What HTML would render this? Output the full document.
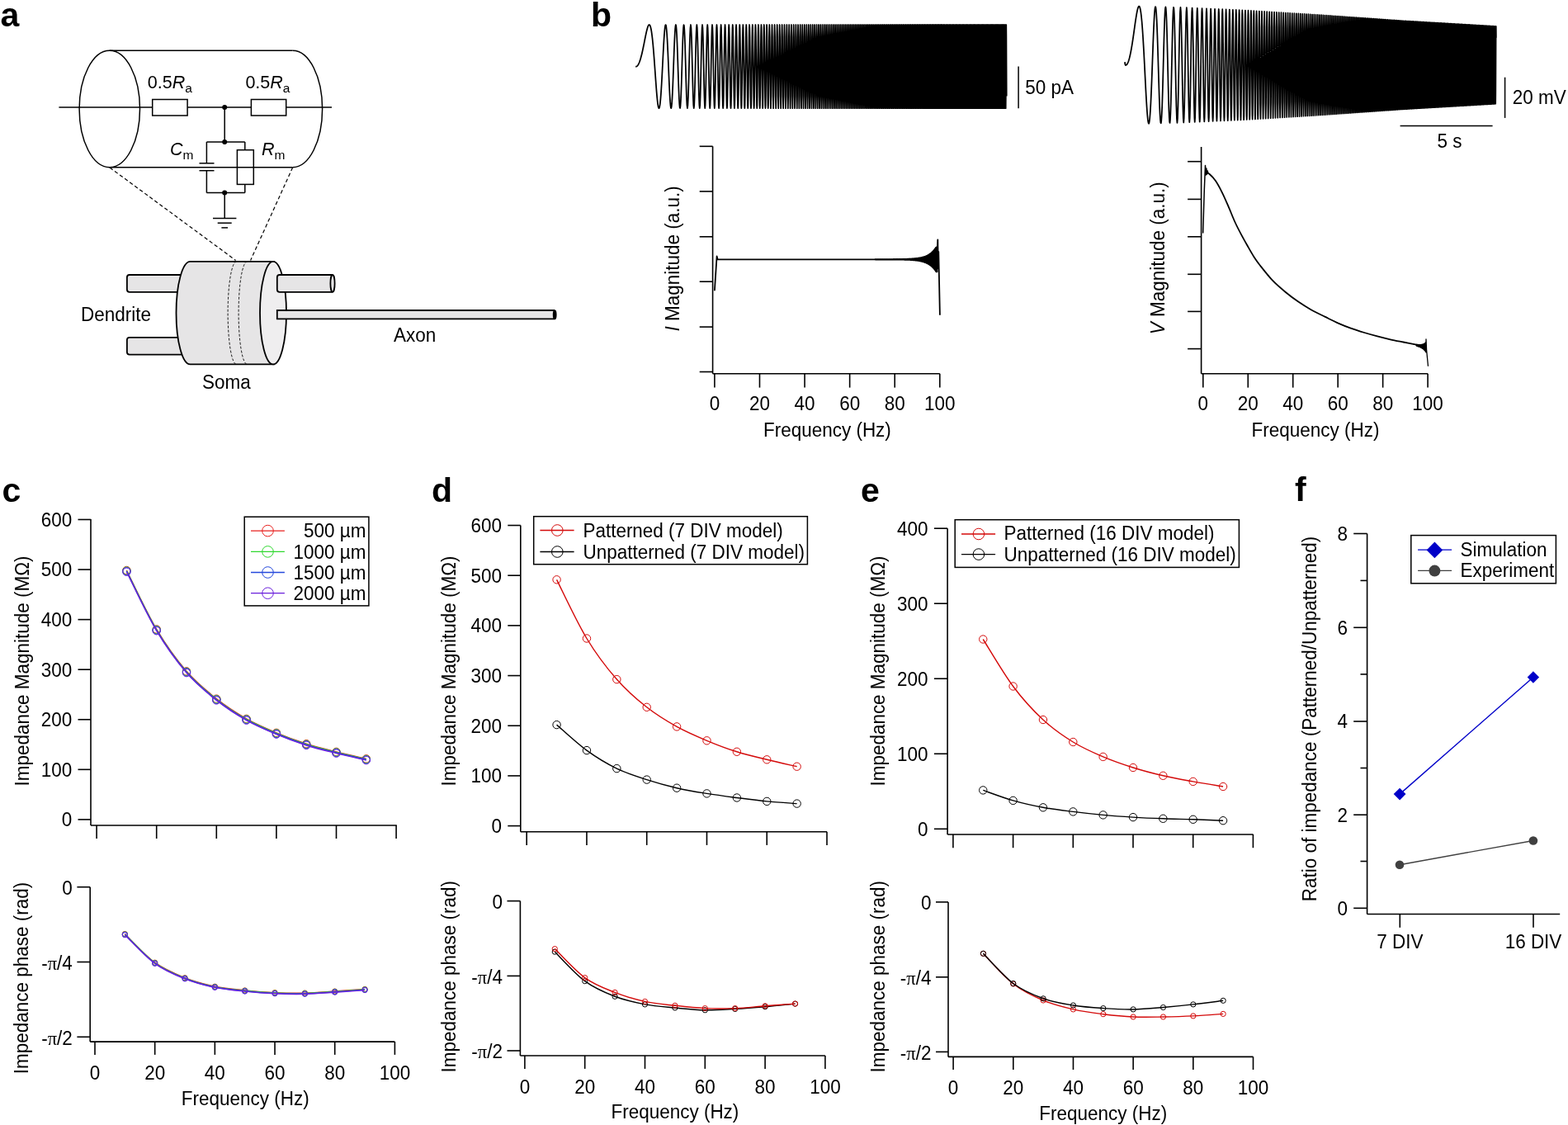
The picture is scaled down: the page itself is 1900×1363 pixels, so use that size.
<!DOCTYPE html>
<html><head><meta charset="utf-8"><title>Figure</title>
<style>html,body{margin:0;padding:0;background:#fff;overflow:hidden;} svg{display:block;} text{font-family:"Liberation Sans", Arial, sans-serif;fill:#000;}</style>
</head><body>
<svg width="1900" height="1363" viewBox="0 0 1900 1363">
<rect width="1900" height="1363" fill="#fff"/>
<text transform="translate(0.5,31.5) scale(1,1)" text-anchor="start" font-size="41" font-weight="bold">a</text>
<text transform="translate(716,31.8) scale(1,1)" text-anchor="start" font-size="41" font-weight="bold">b</text>
<text transform="translate(2.4,608.2) scale(1,1)" text-anchor="start" font-size="41" font-weight="bold">c</text>
<text transform="translate(523,608) scale(1,1)" text-anchor="start" font-size="41" font-weight="bold">d</text>
<text transform="translate(1043,608) scale(1,1)" text-anchor="start" font-size="41" font-weight="bold">e</text>
<text transform="translate(1569,607.3) scale(1,1)" text-anchor="start" font-size="41" font-weight="bold">f</text>
<ellipse cx="132.8" cy="132" rx="36.7" ry="70.7" fill="none" stroke="#000" stroke-width="1.5"/>
<line x1="132.8" y1="61.3" x2="354.6" y2="61.3" stroke="#000" stroke-width="1.5" />
<line x1="132.8" y1="202.7" x2="354.6" y2="202.7" stroke="#000" stroke-width="1.5" />
<path d="M354.6,61.3 A36,70.7 0 0 1 354.6,202.7" fill="none" stroke="#000" stroke-width="1.5"/>
<line x1="71.4" y1="130" x2="184.7" y2="130" stroke="#000" stroke-width="1.5" />
<line x1="227.1" y1="130" x2="304.4" y2="130" stroke="#000" stroke-width="1.5" />
<line x1="346.7" y1="130" x2="402" y2="130" stroke="#000" stroke-width="1.5" />
<rect x="184.7" y="120.5" width="42.4" height="19.5" fill="none" stroke="#000" stroke-width="1.5"/>
<rect x="304.4" y="120.5" width="42.3" height="19.5" fill="none" stroke="#000" stroke-width="1.5"/>
<circle cx="272.2" cy="130" r="3" fill="#000"/>
<line x1="272.2" y1="130" x2="272.2" y2="172" stroke="#000" stroke-width="1.5" />
<circle cx="272.2" cy="172" r="3" fill="#000"/>
<line x1="250.4" y1="172" x2="296.8" y2="172" stroke="#000" stroke-width="1.5" />
<line x1="250.4" y1="172" x2="250.4" y2="197.8" stroke="#000" stroke-width="1.5" />
<line x1="241.5" y1="197.8" x2="259.5" y2="197.8" stroke="#000" stroke-width="1.5" />
<line x1="241.5" y1="206.7" x2="259.5" y2="206.7" stroke="#000" stroke-width="1.5" />
<line x1="250.4" y1="206.7" x2="250.4" y2="233.6" stroke="#000" stroke-width="1.5" />
<line x1="296.8" y1="172" x2="296.8" y2="181.7" stroke="#000" stroke-width="1.5" />
<rect x="287.4" y="181.7" width="19.9" height="41.7" fill="none" stroke="#000" stroke-width="1.5"/>
<line x1="296.8" y1="223.4" x2="296.8" y2="233.6" stroke="#000" stroke-width="1.5" />
<line x1="250.4" y1="233.6" x2="296.8" y2="233.6" stroke="#000" stroke-width="1.5" />
<circle cx="272.2" cy="233.6" r="3" fill="#000"/>
<line x1="272.2" y1="233.6" x2="272.2" y2="264.5" stroke="#000" stroke-width="1.5" />
<line x1="258" y1="264.5" x2="286.4" y2="264.5" stroke="#000" stroke-width="1.5" />
<line x1="263.7" y1="270.2" x2="280.7" y2="270.2" stroke="#000" stroke-width="1.5" />
<line x1="268.4" y1="275.9" x2="276" y2="275.9" stroke="#000" stroke-width="1.5" />
<text x="178.8" y="106.8" font-size="21.5">0.5<tspan font-style="italic">R</tspan><tspan font-size="15.5" dy="5">a</tspan></text>
<text x="297.4" y="106.8" font-size="21.5">0.5<tspan font-style="italic">R</tspan><tspan font-size="15.5" dy="5">a</tspan></text>
<text x="206" y="187.8" font-size="21.5"><tspan font-style="italic">C</tspan><tspan font-size="15.5" dy="5">m</tspan></text>
<text x="317" y="187.8" font-size="21.5"><tspan font-style="italic">R</tspan><tspan font-size="15.5" dy="5">m</tspan></text>
<line x1="133" y1="203" x2="285.6" y2="315.4" stroke="#000" stroke-width="1.2" stroke-dasharray="4.5,3"/>
<line x1="354.6" y1="203" x2="303.6" y2="315.4" stroke="#000" stroke-width="1.2" stroke-dasharray="4.5,3"/>
<rect x="153.9" y="333" width="80" height="20.8" rx="3" fill="#e6e5e6" stroke="#000" stroke-width="1.8"/>
<rect x="153.9" y="408.8" width="80" height="20.8" rx="3" fill="#e6e5e6" stroke="#000" stroke-width="1.8"/>
<path d="M230.5,316.9 L332,316.9 L332,441.4 L230.5,441.4 A17,62.25 0 0 1 230.5,316.9 Z" fill="#e6e5e6" stroke="#000" stroke-width="1.8"/>
<path d="M286.5,316.9 A10.4,62.25 0 0 0 286.5,441.4" fill="none" stroke="#000" stroke-width="0.9" stroke-dasharray="3,2"/>
<path d="M299.5,316.9 A10.4,62.25 0 0 0 299.5,441.4" fill="none" stroke="#000" stroke-width="0.9" stroke-dasharray="3,2"/>
<ellipse cx="331" cy="379.15" rx="16" ry="62.25" fill="#efeeef" stroke="#000" stroke-width="1.8"/>
<path d="M403,333 L338.8,333 Q335.8,333 335.8,336 L335.8,350.8 Q335.8,353.8 338.8,353.8 L403,353.8" fill="#e6e5e6" stroke="#000" stroke-width="1.8"/>
<ellipse cx="403" cy="343.4" rx="2.6" ry="10.4" fill="#e6e5e6" stroke="#000" stroke-width="1.8"/>
<path d="M672,376 L335.8,376 L335.8,386.4 L672,386.4" fill="#e6e5e6" stroke="#000" stroke-width="1.8"/>
<ellipse cx="672.2" cy="381.2" rx="1.5" ry="5.1" fill="#000" stroke="#000" stroke-width="1.8"/>
<text transform="translate(98,388.7) scale(1,1.05)" text-anchor="start" font-size="22.5" >Dendrite</text>
<text transform="translate(245,471.3) scale(1,1.05)" text-anchor="start" font-size="22.5" >Soma</text>
<text transform="translate(477,414.2) scale(1,1.05)" text-anchor="start" font-size="22.5" >Axon</text>
<polyline points="770.1,80.6 770.5,80.67 770.9,80.65 771.3,80.52 771.7,80.3 772.1,79.98 772.5,79.57 772.9,79.05 773.3,78.44 773.7,77.72 774.1,76.92 774.5,76.01 774.9,75.01 775.3,73.91 775.7,72.72 776.1,71.44 776.5,70.06 776.9,68.6 777.3,67.06 777.7,65.44 778.1,63.74 778.5,61.97 778.9,60.13 779.3,58.24 779.7,56.3 780.1,54.32 780.5,52.32 780.9,50.3 781.3,48.27 781.7,46.26 782.1,44.28 782.5,42.34 782.9,40.46 783.3,38.67 783.7,36.98 784.1,35.41 784.5,34 784.9,32.76 785.3,31.72 785.7,30.9 786.1,30.33 786.5,30.04 786.9,30.04 787.3,30.36 787.7,31.02 788.1,32.04 788.5,33.44 788.9,35.23 789.3,37.42 789.7,40.02 790.1,43.03 790.5,46.43 790.9,50.23 791.3,54.39 791.7,58.91 792.1,63.74 792.5,68.85 792.9,74.18 793.3,79.69 793.7,85.3 794.1,90.95 794.5,96.57 794.9,102.06 795.3,107.34 795.7,112.32 796.1,116.91 796.5,121.01 796.9,124.53 797.3,127.39 797.7,129.5 798.1,130.79 798.5,131.2 798.9,130.68 799.3,129.21 799.7,126.77 800.1,123.37 800.5,119.05 800.9,113.85 801.3,107.87 801.7,101.2 802.1,93.97 802.5,86.34 802.9,78.47 803.3,70.56 803.7,62.81 804.1,55.42 804.5,48.61 804.9,42.59 805.3,37.56 805.7,33.69 806.1,31.14 806.5,30.04 806.9,30.46 807.3,32.45 807.7,35.98 808.1,41.01 808.5,47.4 808.9,54.98 809.3,63.53 809.7,72.77 810.1,82.38 810.5,92.03 810.9,101.34 811.3,109.95 811.7,117.5 812.1,123.65 812.5,128.11 812.9,130.66 813.3,131.11 813.7,129.4 814.1,125.54 814.5,119.64 814.9,111.92 815.3,102.68 815.7,92.32 816.1,81.31 816.5,70.16 816.9,59.44 817.3,49.7 817.7,41.46 818.1,35.19 818.5,31.28 818.9,30 819.3,31.49 819.7,35.72 820.1,42.54 820.5,51.6 820.9,62.43 821.3,74.43 821.7,86.89 822.1,99.06 822.5,110.18 822.9,119.5 823.3,126.4 823.7,130.36 824.1,131.05 824.5,128.36 824.9,122.39 825.3,113.49 825.7,102.21 826.1,89.31 826.5,75.69 826.9,62.33 827.3,50.24 827.7,40.36 828.1,33.49 828.5,30.22 828.9,30.9 829.3,35.54 829.7,43.85 830.1,55.23 830.82,80.6 831.36,99.96 831.89,116.38 832.42,127.35 832.94,131.2 833.45,127.35 833.97,116.38 834.48,99.96 834.98,80.6 835.48,61.24 835.98,44.82 836.47,33.85 836.96,30 837.45,33.85 837.93,44.82 838.41,61.24 838.89,80.6 839.36,99.96 839.83,116.38 840.3,127.35 840.76,131.2 841.22,127.35 841.68,116.38 842.13,99.96 842.58,80.6 843.03,61.24 843.47,44.82 843.92,33.85 844.36,30 844.8,33.85 845.23,44.82 845.66,61.24 846.09,80.6 846.52,99.96 846.95,116.38 847.37,127.35 847.79,131.2 848.21,127.35 848.63,116.38 849.04,99.96 849.45,80.6 849.86,61.24 850.27,44.82 850.67,33.85 851.08,30 851.48,33.85 851.88,44.82 852.28,61.24 852.67,80.6 853.06,99.96 853.46,116.38 853.85,127.35 854.23,131.2 854.62,127.35 855,116.38 855.39,99.96 855.77,80.6 856.15,61.24 856.53,44.82 856.9,33.85 857.28,30 857.65,33.85 858.02,44.82 858.39,61.24 858.76,80.6 859.12,99.96 859.49,116.38 859.85,127.35 860.22,131.2 860.58,127.35 860.93,116.38 861.29,99.96 861.65,80.6 862,61.24 862.36,44.82 862.71,33.85 863.06,30 863.41,33.85 863.76,44.82 864.11,61.24 864.45,80.6 864.8,99.96 865.14,116.38 865.48,127.35 865.82,131.2 866.16,127.35 866.5,116.38 866.84,99.96 867.17,80.6 867.51,61.24 867.84,44.82 868.17,33.85 868.5,30 868.83,33.85 869.16,44.82 869.49,61.24 869.82,80.6 870.14,99.96 870.47,116.38 870.79,127.35 871.12,131.2 871.44,127.35 871.76,116.38 872.08,99.96 872.4,80.6 872.71,61.24 873.03,44.82 873.35,33.85 873.66,30 873.97,33.85 874.29,44.82 874.6,61.24 874.91,80.6 875.22,99.96 875.53,116.38 875.84,127.35 876.14,131.2 876.45,127.35 876.76,116.38 877.06,99.96 877.36,80.6 877.67,61.24 877.97,44.82 878.27,33.85 878.57,30 878.87,33.85 879.17,44.82 879.47,61.24 879.76,80.6 880.06,99.96 880.36,116.38 880.65,127.35 880.94,131.2 881.24,127.35 881.53,116.38 881.82,99.96 882.11,80.6 882.4,61.24 882.69,44.82 882.98,33.85 883.27,30 883.55,33.85 883.84,44.82 884.13,61.24 884.41,80.6 884.7,99.96 884.98,116.38 885.26,127.35 885.54,131.2 885.83,127.35 886.11,116.38 886.39,99.96 886.67,80.6 886.94,61.24 887.22,44.82 887.5,33.85 887.78,30 888.05,33.85 888.33,44.82 888.6,61.24 888.88,80.6 889.15,99.96 889.42,116.38 889.69,127.35 889.97,131.2 890.24,127.35 890.51,116.38 890.78,99.96 891.05,80.6 891.32,61.24 891.58,44.82 891.85,33.85 892.12,30 892.38,33.85 892.65,44.82 892.91,61.24 893.18,80.6 893.44,99.96 893.71,116.38 893.97,127.35 894.23,131.2 894.49,127.35 894.75,116.38 895.01,99.96 895.27,80.6 895.53,61.24 895.79,44.82 896.05,33.85 896.31,30 896.57,33.85 896.82,44.82 897.08,61.24 897.34,80.6 897.59,99.96 897.85,116.38 898.1,127.35 898.35,131.2 898.61,127.35 898.86,116.38 899.11,99.96 899.36,80.6 899.61,61.24 899.86,44.82 900.12,33.85 900.36,30 900.61,33.85 900.86,44.82 901.11,61.24 901.36,80.6 901.61,99.96 901.85,116.38 902.1,127.35 902.35,131.2 902.59,127.35 902.84,116.38 903.08,99.96 903.33,80.6 903.57,61.24 903.81,44.82 904.06,33.85 904.3,30 904.54,33.85 904.78,44.82 905.02,61.24 905.26,80.6 905.5,99.96 905.74,116.38 905.98,127.35 906.22,131.2 906.46,127.35 906.7,116.38 906.94,99.96 907.17,80.6 907.41,61.24 907.65,44.82 907.88,33.85 908.12,30 908.35,33.85 908.59,44.82 908.82,61.24 909.06,80.6 909.29,99.96 909.52,116.38 909.76,127.35 909.99,131.2 910.22,127.35 910.45,116.38 910.69,99.96 910.92,80.6 911.15,61.24 911.38,44.82 911.61,33.85 911.84,30 912.07,33.85 912.29,44.82 912.52,61.24 912.75,80.6 912.98,99.96 913.21,116.38 913.43,127.35 913.66,131.2 913.89,127.35 914.11,116.38 914.34,99.96 914.56,80.6 914.79,61.24 915.01,44.82 915.23,33.85 915.46,30 915.68,33.85 915.9,44.82 916.13,61.24 916.35,80.6 916.57,99.96 916.79,116.38 917.01,127.35 917.24,131.2 917.46,127.35 917.68,116.38 917.9,99.96 918.12,80.6 918.34,61.24 918.55,44.82 918.77,33.85 918.99,30 919.21,33.85 919.43,44.82 919.65,61.24 919.86,80.6 920.08,99.96 920.3,116.38 920.51,127.35 920.73,131.2 920.94,127.35 921.16,116.38 921.37,99.96 921.59,80.6 921.8,61.24 922.02,44.82 922.23,33.85 922.44,30 922.66,33.85 922.87,44.82 923.08,61.24 923.29,80.6 923.51,99.96 923.72,116.38 923.93,127.35 924.14,131.2 924.35,127.35 924.56,116.38 924.77,99.96 924.98,80.6 925.19,61.24 925.4,44.82 925.61,33.85 925.82,30 926.03,33.85 926.23,44.82 926.44,61.24 926.65,80.6 926.86,99.96 927.07,116.38 927.27,127.35 927.48,131.2 927.68,127.35 927.89,116.38 928.1,99.96 928.3,80.6 928.51,61.24 928.71,44.82 928.92,33.85 929.12,30 929.33,33.85 929.53,44.82 929.73,61.24 929.94,80.6 930.14,99.96 930.34,116.38 930.54,127.35 930.75,131.2 930.95,127.35 931.15,116.38 931.35,99.96 931.55,80.6 931.96,44.82 932.36,30 932.76,44.82 933.16,80.6 933.55,116.38 933.95,131.2 934.35,116.38 934.74,80.6 935.14,44.82 935.53,30 935.92,44.82 936.31,80.6 936.7,116.38 937.09,131.2 937.48,116.38 937.87,80.6 938.25,44.82 938.64,30 939.03,44.82 939.41,80.6 939.79,116.38 940.18,131.2 940.56,116.38 940.94,80.6 941.32,44.82 941.7,30 942.07,44.82 942.45,80.6 942.83,116.38 943.2,131.2 943.58,116.38 943.95,80.6 944.33,44.82 944.7,30 945.07,44.82 945.44,80.6 945.81,116.38 946.18,131.2 946.55,116.38 946.92,80.6 947.28,44.82 947.65,30 948.01,44.82 948.38,80.6 948.74,116.38 949.11,131.2 949.47,116.38 949.83,80.6 950.19,44.82 950.55,30 950.91,44.82 951.27,80.6 951.63,116.38 951.99,131.2 952.34,116.38 952.7,80.6 953.05,44.82 953.41,30 953.76,44.82 954.12,80.6 954.47,116.38 954.82,131.2 955.17,116.38 955.52,80.6 955.87,44.82 956.22,30 956.57,44.82 956.92,80.6 957.27,116.38 957.61,131.2 957.96,116.38 958.3,80.6 958.65,44.82 958.99,30 959.34,44.82 959.68,80.6 960.02,116.38 960.36,131.2 960.7,116.38 961.04,80.6 961.38,44.82 961.72,30 962.06,44.82 962.4,80.6 962.74,116.38 963.07,131.2 963.41,116.38 963.74,80.6 964.08,44.82 964.41,30 964.75,44.82 965.08,80.6 965.41,116.38 965.75,131.2 966.08,116.38 966.41,80.6 966.74,44.82 967.07,30 967.4,44.82 967.73,80.6 968.06,116.38 968.38,131.2 968.71,116.38 969.04,80.6 969.36,44.82 969.69,30 970.01,44.82 970.34,80.6 970.66,116.38 970.99,131.2 971.31,116.38 971.63,80.6 971.95,44.82 972.27,30 972.6,44.82 972.92,80.6 973.24,116.38 973.56,131.2 973.87,116.38 974.19,80.6 974.51,44.82 974.83,30 975.14,44.82 975.46,80.6 975.78,116.38 976.09,131.2 976.41,116.38 976.72,80.6 977.04,44.82 977.35,30 977.66,44.82 977.97,80.6 978.29,116.38 978.6,131.2 978.91,116.38 979.22,80.6 979.53,44.82 979.84,30 980.15,44.82 980.46,80.6 980.77,116.38 981.07,131.2 981.38,116.38 981.69,80.6 982,44.82 982.3,30 982.61,44.82 982.91,80.6 983.22,116.38 983.52,131.2 983.83,116.38 984.13,80.6 984.43,44.82 984.74,30 985.04,44.82 985.34,80.6 985.64,116.38 985.94,131.2 986.24,116.38 986.54,80.6 986.84,44.82 987.14,30 987.44,44.82 987.74,80.6 988.04,116.38 988.33,131.2 988.63,116.38 988.93,80.6 989.23,44.82 989.52,30 989.82,44.82 990.11,80.6 990.41,116.38 990.7,131.2 991,116.38 991.29,80.6 991.58,44.82 991.88,30 992.17,44.82 992.46,80.6 992.75,116.38 993.04,131.2 993.33,116.38 993.62,80.6 993.91,44.82 994.2,30 994.49,44.82 994.78,80.6 995.07,116.38 995.36,131.2 995.65,116.38 995.94,80.6 996.22,44.82 996.51,30 996.8,44.82 997.08,80.6 997.37,116.38 997.65,131.2 997.94,116.38 998.22,80.6 998.51,44.82 998.79,30 999.08,44.82 999.36,80.6 999.64,116.38 999.92,131.2 1000.21,116.38 1000.49,80.6 1000.77,44.82 1001.05,30 1001.33,44.82 1001.61,80.6 1001.89,116.38 1002.17,131.2 1002.45,116.38 1002.73,80.6 1003.01,44.82 1003.29,30 1003.57,44.82 1003.84,80.6 1004.12,116.38 1004.4,131.2 1004.68,116.38 1004.95,80.6 1005.23,44.82 1005.51,30 1005.78,44.82 1006.06,80.6 1006.33,116.38 1006.61,131.2 1006.88,116.38 1007.15,80.6 1007.43,44.82 1007.7,30 1007.97,44.82 1008.25,80.6 1008.52,116.38 1008.79,131.2 1009.06,116.38 1009.33,80.6 1009.6,44.82 1009.88,30 1010.15,44.82 1010.42,80.6 1010.69,116.38 1010.96,131.2 1011.23,116.38 1011.49,80.6 1011.76,44.82 1012.03,30 1012.3,44.82 1012.57,80.6 1012.83,116.38 1013.1,131.2 1013.37,116.38 1013.64,80.6 1013.9,44.82 1014.17,30 1014.43,44.82 1014.7,80.6 1014.96,116.38 1015.23,131.2 1015.49,116.38 1015.76,80.6 1016.02,44.82 1016.29,30 1016.55,44.82 1016.81,80.6 1017.08,116.38 1017.34,131.2 1017.6,116.38 1017.86,80.6 1018.12,44.82 1018.39,30 1018.65,44.82 1018.91,80.6 1019.17,116.38 1019.43,131.2 1019.69,116.38 1019.95,80.6 1020.21,44.82 1020.47,30 1020.73,44.82 1020.99,80.6 1021.24,116.38 1021.5,131.2 1021.76,116.38 1022.02,80.6 1022.28,44.82 1022.53,30 1022.79,44.82 1023.05,80.6 1023.3,116.38 1023.56,131.2 1023.82,116.38 1024.07,80.6 1024.33,44.82 1024.58,30 1024.84,44.82 1025.09,80.6 1025.35,116.38 1025.6,131.2 1025.85,116.38 1026.11,80.6 1026.36,44.82 1026.61,30 1026.87,44.82 1027.12,80.6 1027.37,116.38 1027.62,131.2 1027.88,116.38 1028.13,80.6 1028.38,44.82 1028.63,30 1028.88,44.82 1029.13,80.6 1029.38,116.38 1029.63,131.2 1029.88,116.38 1030.13,80.6 1030.38,44.82 1030.63,30 1030.88,44.82 1031.13,80.6 1031.38,116.38 1031.62,131.2 1031.87,116.38 1032.12,80.6 1032.37,44.82 1032.61,30 1032.86,44.82 1033.11,80.6 1033.36,116.38 1033.6,131.2 1033.85,116.38 1034.09,80.6 1034.34,44.82 1034.58,30 1034.83,44.82 1035.08,80.6 1035.32,116.38 1035.56,131.2 1035.81,116.38 1036.05,80.6 1036.3,44.82 1036.54,30 1036.78,44.82 1037.03,80.6 1037.27,116.38 1037.51,131.2 1037.76,116.38 1038,80.6 1038.24,44.82 1038.48,30 1038.72,44.82 1038.96,80.6 1039.21,116.38 1039.45,131.2 1039.69,116.38 1039.93,80.6 1040.17,44.82 1040.41,30 1040.65,44.82 1040.89,80.6 1041.13,116.38 1041.37,131.2 1041.61,116.38 1041.85,80.6 1042.08,44.82 1042.32,30 1042.56,44.82 1042.8,80.6 1043.04,116.38 1043.27,131.2 1043.51,116.38 1043.75,80.6 1043.99,44.82 1044.22,30 1044.46,44.82 1044.7,80.6 1044.93,116.38 1045.17,131.2 1045.4,116.38 1045.64,80.6 1045.87,44.82 1046.11,30 1046.34,44.82 1046.58,80.6 1046.81,116.38 1047.05,131.2 1047.28,116.38 1047.52,80.6 1047.75,44.82 1047.98,30 1048.22,44.82 1048.45,80.6 1048.68,116.38 1048.92,131.2 1049.15,116.38 1049.38,80.6 1049.61,44.82 1049.85,30 1050.08,44.82 1050.31,80.6 1050.54,116.38 1050.77,131.2 1051,116.38 1051.23,80.6 1051.46,44.82 1051.69,30 1051.93,44.82 1052.16,80.6 1052.39,116.38 1052.62,131.2 1052.84,116.38 1053.07,80.6 1053.3,44.82 1053.53,30 1053.76,44.82 1053.99,80.6 1054.22,116.38 1054.45,131.2 1054.67,116.38 1054.9,80.6 1055.13,44.82 1055.36,30 1055.58,44.82 1055.81,80.6 1056.04,116.38 1056.27,131.2 1056.49,116.38 1056.72,80.6 1056.95,44.82 1057.17,30 1057.4,44.82 1057.62,80.6 1057.85,116.38 1058.07,131.2 1058.3,116.38 1058.52,80.6 1058.75,44.82 1058.97,30 1059.2,44.82 1059.42,80.6 1059.65,116.38 1059.87,131.2 1060.09,116.38 1060.32,80.6 1060.54,44.82 1060.76,30 1060.99,44.82 1061.21,80.6 1061.43,116.38 1061.66,131.2 1061.88,116.38 1062.1,80.6 1062.32,44.82 1062.55,30 1062.77,44.82 1062.99,80.6 1063.21,116.38 1063.43,131.2 1063.65,116.38 1063.87,80.6 1064.09,44.82 1064.31,30 1064.53,44.82 1064.76,80.6 1064.98,116.38 1065.2,131.2 1065.41,116.38 1065.63,80.6 1065.85,44.82 1066.07,30 1066.29,44.82 1066.51,80.6 1066.73,116.38 1066.95,131.2 1067.17,116.38 1067.39,80.6 1067.6,44.82 1067.82,30 1068.04,44.82 1068.26,80.6 1068.47,116.38 1068.69,131.2 1068.91,116.38 1069.13,80.6 1069.34,44.82 1069.56,30 1069.78,44.82 1069.99,80.6 1070.21,116.38 1070.43,131.2 1070.64,116.38 1070.86,80.6 1071.07,44.82 1071.29,30 1071.5,44.82 1071.72,80.6 1071.93,116.38 1072.15,131.2 1072.36,116.38 1072.58,80.6 1072.79,44.82 1073.01,30 1073.22,44.82 1073.43,80.6 1073.65,116.38 1073.86,131.2 1074.08,116.38 1074.29,80.6 1074.5,44.82 1074.71,30 1074.93,44.82 1075.14,80.6 1075.35,116.38 1075.57,131.2 1075.78,116.38 1075.99,80.6 1076.2,44.82 1076.41,30 1076.63,44.82 1076.84,80.6 1077.05,116.38 1077.26,131.2 1077.47,116.38 1077.68,80.6 1077.89,44.82 1078.1,30 1078.31,44.82 1078.52,80.6 1078.73,116.38 1078.94,131.2 1079.15,116.38 1079.36,80.6 1079.57,44.82 1079.78,30 1079.99,44.82 1080.2,80.6 1080.41,116.38 1080.62,131.2 1080.83,116.38 1081.04,80.6 1081.25,44.82 1081.45,30 1081.66,44.82 1081.87,80.6 1082.08,116.38 1082.29,131.2 1082.49,116.38 1082.7,80.6 1082.91,44.82 1083.12,30 1083.32,44.82 1083.53,80.6 1083.74,116.38 1083.95,131.2 1084.15,116.38 1084.36,80.6 1084.56,44.82 1084.77,30 1084.98,44.82 1085.18,80.6 1085.39,116.38 1085.59,131.2 1085.8,116.38 1086.01,80.6 1086.21,44.82 1086.42,30 1086.62,44.82 1086.83,80.6 1087.03,116.38 1087.23,131.2 1087.44,116.38 1087.64,80.6 1087.85,44.82 1088.05,30 1088.26,44.82 1088.46,80.6 1088.66,116.38 1088.87,131.2 1089.07,116.38 1089.27,80.6 1089.48,44.82 1089.68,30 1089.88,44.82 1090.09,80.6 1090.29,116.38 1090.49,131.2 1090.69,116.38 1090.9,80.6 1091.1,44.82 1091.3,30 1091.5,44.82 1091.7,80.6 1091.91,116.38 1092.11,131.2 1092.31,116.38 1092.51,80.6 1092.71,44.82 1092.91,30 1093.11,44.82 1093.31,80.6 1093.51,116.38 1093.71,131.2 1093.91,116.38 1094.11,80.6 1094.31,44.82 1094.51,30 1094.71,44.82 1094.91,80.6 1095.11,116.38 1095.31,131.2 1095.51,116.38 1095.71,80.6 1095.91,44.82 1096.11,30 1096.31,44.82 1096.51,80.6 1096.71,116.38 1096.91,131.2 1097.1,116.38 1097.3,80.6 1097.5,44.82 1097.7,30 1097.9,44.82 1098.09,80.6 1098.29,116.38 1098.49,131.2 1098.69,116.38 1098.88,80.6 1099.08,44.82 1099.28,30 1099.48,44.82 1099.67,80.6 1099.87,116.38 1100.07,131.2 1100.26,116.38 1100.46,80.6 1100.66,44.82 1100.85,30 1101.05,44.82 1101.24,80.6 1101.44,116.38 1101.63,131.2 1101.83,116.38 1102.03,80.6 1102.22,44.82 1102.42,30 1102.61,44.82 1102.81,80.6 1103,116.38 1103.2,131.2 1103.39,116.38 1103.59,80.6 1103.78,44.82 1103.97,30 1104.17,44.82 1104.36,80.6 1104.56,116.38 1104.75,131.2 1104.94,116.38 1105.14,80.6 1105.33,44.82 1105.52,30 1105.72,44.82 1105.91,80.6 1106.1,116.38 1106.3,131.2 1106.49,116.38 1106.68,80.6 1106.88,44.82 1107.07,30 1107.26,44.82 1107.45,80.6 1107.65,116.38 1107.84,131.2 1108.03,116.38 1108.22,80.6 1108.41,44.82 1108.6,30 1108.8,44.82 1108.99,80.6 1109.18,116.38 1109.37,131.2 1109.56,116.38 1109.75,80.6 1109.94,44.82 1110.13,30 1110.32,44.82 1110.52,80.6 1110.71,116.38 1110.9,131.2 1111.09,116.38 1111.28,80.6 1111.47,44.82 1111.66,30 1111.85,44.82 1112.04,80.6 1112.23,116.38 1112.42,131.2 1112.6,116.38 1112.79,80.6 1112.98,44.82 1113.17,30 1113.36,44.82 1113.55,80.6 1113.74,116.38 1113.93,131.2 1114.12,116.38 1114.31,80.6 1114.49,44.82 1114.68,30 1114.87,44.82 1115.06,80.6 1115.25,116.38 1115.43,131.2 1115.62,116.38 1115.81,80.6 1116,44.82 1116.18,30 1116.37,44.82 1116.56,80.6 1116.75,116.38 1116.93,131.2 1117.12,116.38 1117.31,80.6 1117.49,44.82 1117.68,30 1117.87,44.82 1118.05,80.6 1118.24,116.38 1118.43,131.2 1118.61,116.38 1118.8,80.6 1118.98,44.82 1119.17,30 1119.36,44.82 1119.54,80.6 1119.73,116.38 1119.91,131.2 1120.1,116.38 1120.28,80.6 1120.47,44.82 1120.65,30 1120.84,44.82 1121.02,80.6 1121.21,116.38 1121.39,131.2 1121.58,116.38 1121.76,80.6 1121.95,44.82 1122.13,30 1122.31,44.82 1122.5,80.6 1122.68,116.38 1122.87,131.2 1123.05,116.38 1123.23,80.6 1123.42,44.82 1123.6,30 1123.78,44.82 1123.97,80.6 1124.15,116.38 1124.33,131.2 1124.52,116.38 1124.7,80.6 1124.88,44.82 1125.07,30 1125.25,44.82 1125.43,80.6 1125.61,116.38 1125.8,131.2 1125.98,116.38 1126.16,80.6 1126.34,44.82 1126.52,30 1126.71,44.82 1126.89,80.6 1127.07,116.38 1127.25,131.2 1127.43,116.38 1127.61,80.6 1127.8,44.82 1127.98,30 1128.16,44.82 1128.34,80.6 1128.52,116.38 1128.7,131.2 1128.88,116.38 1129.06,80.6 1129.24,44.82 1129.42,30 1129.6,44.82 1129.79,80.6 1129.97,116.38 1130.15,131.2 1130.33,116.38 1130.51,80.6 1130.69,44.82 1130.87,30 1131.05,44.82 1131.22,80.6 1131.4,116.38 1131.58,131.2 1131.76,116.38 1131.94,80.6 1132.12,44.82 1132.3,30 1132.48,44.82 1132.66,80.6 1132.84,116.38 1133.02,131.2 1133.19,116.38 1133.37,80.6 1133.55,44.82 1133.73,30 1133.91,44.82 1134.09,80.6 1134.27,116.38 1134.44,131.2 1134.62,116.38 1134.8,80.6 1134.98,44.82 1135.15,30 1135.33,44.82 1135.51,80.6 1135.69,116.38 1135.86,131.2 1136.04,116.38 1136.22,80.6 1136.4,44.82 1136.57,30 1136.75,44.82 1136.93,80.6 1137.1,116.38 1137.28,131.2 1137.46,116.38 1137.63,80.6 1137.81,44.82 1137.99,30 1138.16,44.82 1138.34,80.6 1138.51,116.38 1138.69,131.2 1138.87,116.38 1139.04,80.6 1139.22,44.82 1139.39,30 1139.57,44.82 1139.74,80.6 1139.92,116.38 1140.1,131.2 1140.27,116.38 1140.45,80.6 1140.62,44.82 1140.8,30 1140.97,44.82 1141.15,80.6 1141.32,116.38 1141.49,131.2 1141.67,116.38 1141.84,80.6 1142.02,44.82 1142.19,30 1142.37,44.82 1142.54,80.6 1142.72,116.38 1142.89,131.2 1143.06,116.38 1143.24,80.6 1143.41,44.82 1143.58,30 1143.76,44.82 1143.93,80.6 1144.11,116.38 1144.28,131.2 1144.45,116.38 1144.62,80.6 1144.8,44.82 1144.97,30 1145.14,44.82 1145.32,80.6 1145.49,116.38 1145.66,131.2 1145.84,116.38 1146.01,80.6 1146.18,44.82 1146.35,30 1146.52,44.82 1146.7,80.6 1146.87,116.38 1147.04,131.2 1147.21,116.38 1147.39,80.6 1147.56,44.82 1147.73,30 1147.9,44.82 1148.07,80.6 1148.24,116.38 1148.42,131.2 1148.59,116.38 1148.76,80.6 1148.93,44.82 1149.1,30 1149.27,44.82 1149.44,80.6 1149.61,116.38 1149.78,131.2 1149.95,116.38 1150.13,80.6 1150.3,44.82 1150.47,30 1150.64,44.82 1150.81,80.6 1150.98,116.38 1151.15,131.2 1151.32,116.38 1151.49,80.6 1151.66,44.82 1151.83,30 1152,44.82 1152.17,80.6 1152.34,116.38 1152.51,131.2 1152.68,116.38 1152.85,80.6 1153.02,44.82 1153.19,30 1153.35,44.82 1153.52,80.6 1153.69,116.38 1153.86,131.2 1154.03,116.38 1154.2,80.6 1154.37,44.82 1154.54,30 1154.71,44.82 1154.87,80.6 1155.04,116.38 1155.21,131.2 1155.38,116.38 1155.55,80.6 1155.72,44.82 1155.88,30 1156.05,44.82 1156.22,80.6 1156.39,116.38 1156.56,131.2 1156.72,116.38 1156.89,80.6 1157.06,44.82 1157.23,30 1157.39,44.82 1157.56,80.6 1157.73,116.38 1157.9,131.2 1158.06,116.38 1158.23,80.6 1158.4,44.82 1158.56,30 1158.73,44.82 1158.9,80.6 1159.06,116.38 1159.23,131.2 1159.4,116.38 1159.56,80.6 1159.73,44.82 1159.9,30 1160.06,44.82 1160.23,80.6 1160.4,116.38 1160.56,131.2 1160.73,116.38 1160.89,80.6 1161.06,44.82 1161.23,30 1161.39,44.82 1161.56,80.6 1161.72,116.38 1161.89,131.2 1162.05,116.38 1162.22,80.6 1162.39,44.82 1162.55,30 1162.72,44.82 1162.88,80.6 1163.05,116.38 1163.21,131.2 1163.38,116.38 1163.54,80.6 1163.71,44.82 1163.87,30 1164.03,44.82 1164.2,80.6 1164.36,116.38 1164.53,131.2 1164.69,116.38 1164.86,80.6 1165.02,44.82 1165.19,30 1165.35,44.82 1165.51,80.6 1165.68,116.38 1165.84,131.2 1166.01,116.38 1166.17,80.6 1166.33,44.82 1166.5,30 1166.66,44.82 1166.82,80.6 1166.99,116.38 1167.15,131.2 1167.31,116.38 1167.48,80.6 1167.64,44.82 1167.8,30 1167.97,44.82 1168.13,80.6 1168.29,116.38 1168.45,131.2 1168.62,116.38 1168.78,80.6 1168.94,44.82 1169.11,30 1169.27,44.82 1169.43,80.6 1169.59,116.38 1169.75,131.2 1169.92,116.38 1170.08,80.6 1170.24,44.82 1170.4,30 1170.57,44.82 1170.73,80.6 1170.89,116.38 1171.05,131.2 1171.21,116.38 1171.37,80.6 1171.54,44.82 1171.7,30 1171.86,44.82 1172.02,80.6 1172.18,116.38 1172.34,131.2 1172.5,116.38 1172.66,80.6 1172.83,44.82 1172.99,30 1173.15,44.82 1173.31,80.6 1173.47,116.38 1173.63,131.2 1173.79,116.38 1173.95,80.6 1174.11,44.82 1174.27,30 1174.43,44.82 1174.59,80.6 1174.75,116.38 1174.91,131.2 1175.07,116.38 1175.23,80.6 1175.39,44.82 1175.55,30 1175.71,44.82 1175.87,80.6 1176.03,116.38 1176.19,131.2 1176.35,116.38 1176.51,80.6 1176.67,44.82 1176.83,30 1176.99,44.82 1177.15,80.6 1177.31,116.38 1177.47,131.2 1177.63,116.38 1177.79,80.6 1177.95,44.82 1178.1,30 1178.26,44.82 1178.42,80.6 1178.58,116.38 1178.74,131.2 1178.9,116.38 1179.06,80.6 1179.22,44.82 1179.37,30 1179.53,44.82 1179.69,80.6 1179.85,116.38 1180.01,131.2 1180.17,116.38 1180.32,80.6 1180.48,44.82 1180.64,30 1180.8,44.82 1180.96,80.6 1181.11,116.38 1181.27,131.2 1181.43,116.38 1181.59,80.6 1181.74,44.82 1181.9,30 1182.06,44.82 1182.22,80.6 1182.37,116.38 1182.53,131.2 1182.69,116.38 1182.85,80.6 1183,44.82 1183.16,30 1183.32,44.82 1183.47,80.6 1183.63,116.38 1183.79,131.2 1183.94,116.38 1184.1,80.6 1184.26,44.82 1184.41,30 1184.57,44.82 1184.73,80.6 1184.88,116.38 1185.04,131.2 1185.2,116.38 1185.35,80.6 1185.51,44.82 1185.66,30 1185.82,44.82 1185.98,80.6 1186.13,116.38 1186.29,131.2 1186.44,116.38 1186.6,80.6 1186.75,44.82 1186.91,30 1187.07,44.82 1187.22,80.6 1187.38,116.38 1187.53,131.2 1187.69,116.38 1187.84,80.6 1188,44.82 1188.15,30 1188.31,44.82 1188.46,80.6 1188.62,116.38 1188.77,131.2 1188.93,116.38 1189.08,80.6 1189.24,44.82 1189.39,30 1189.55,44.82 1189.7,80.6 1189.86,116.38 1190.01,131.2 1190.16,116.38 1190.32,80.6 1190.47,44.82 1190.63,30 1190.78,44.82 1190.94,80.6 1191.09,116.38 1191.24,131.2 1191.4,116.38 1191.55,80.6 1191.71,44.82 1191.86,30 1192.01,44.82 1192.17,80.6 1192.32,116.38 1192.47,131.2 1192.63,116.38 1192.78,80.6 1192.93,44.82 1193.09,30 1193.24,44.82 1193.39,80.6 1193.55,116.38 1193.7,131.2 1193.85,116.38 1194.01,80.6 1194.16,44.82 1194.31,30 1194.46,44.82 1194.62,80.6 1194.77,116.38 1194.92,131.2 1195.08,116.38 1195.23,80.6 1195.38,44.82 1195.53,30 1195.69,44.82 1195.84,80.6 1195.99,116.38 1196.14,131.2 1196.29,116.38 1196.45,80.6 1196.6,44.82 1196.75,30 1196.9,44.82 1197.05,80.6 1197.21,116.38 1197.36,131.2 1197.51,116.38 1197.66,80.6 1197.81,44.82 1197.96,30 1198.12,44.82 1198.27,80.6 1198.42,116.38 1198.57,131.2 1198.72,116.38 1198.87,80.6 1199.02,44.82 1199.18,30 1199.33,44.82 1199.48,80.6 1199.63,116.38 1199.78,131.2 1199.93,116.38 1200.08,80.6 1200.23,44.82 1200.38,30 1200.53,44.82 1200.68,80.6 1200.83,116.38 1200.98,131.2 1201.14,116.38 1201.29,80.6 1201.44,44.82 1201.59,30 1201.74,44.82 1201.89,80.6 1202.04,116.38 1202.19,131.2 1202.34,116.38 1202.49,80.6 1202.64,44.82 1202.79,30 1202.94,44.82 1203.09,80.6 1203.24,116.38 1203.39,131.2 1203.54,116.38 1203.69,80.6 1203.83,44.82 1203.98,30 1204.13,44.82 1204.28,80.6 1204.43,116.38 1204.58,131.2 1204.73,116.38 1204.88,80.6 1205.03,44.82 1205.18,30 1205.33,44.82 1205.48,80.6 1205.62,116.38 1205.77,131.2 1205.92,116.38 1206.07,80.6 1206.22,44.82 1206.37,30 1206.52,44.82 1206.67,80.6 1206.81,116.38 1206.96,131.2 1207.11,116.38 1207.26,80.6 1207.41,44.82 1207.56,30 1207.7,44.82 1207.85,80.6 1208,116.38 1208.15,131.2 1208.3,116.38 1208.44,80.6 1208.59,44.82 1208.74,30 1208.89,44.82 1209.04,80.6 1209.18,116.38 1209.33,131.2 1209.48,116.38 1209.63,80.6 1209.77,44.82 1209.92,30 1210.07,44.82 1210.22,80.6 1210.36,116.38 1210.51,131.2 1210.66,116.38 1210.8,80.6 1210.95,44.82 1211.1,30 1211.25,44.82 1211.39,80.6 1211.54,116.38 1211.69,131.2 1211.83,116.38 1211.98,80.6 1212.13,44.82 1212.27,30 1212.42,44.82 1212.57,80.6 1212.71,116.38 1212.86,131.2 1213.01,116.38 1213.15,80.6 1213.3,44.82 1213.45,30 1213.59,44.82 1213.74,80.6 1213.88,116.38 1214.03,131.2 1214.18,116.38 1214.32,80.6 1214.47,44.82 1214.61,30 1214.76,44.82 1214.91,80.6 1215.05,116.38 1215.2,131.2 1215.34,116.38 1215.49,80.6 1215.63,44.82 1215.78,30 1215.92,44.82 1216.07,80.6 1216.22,116.38 1216.36,131.2 1216.51,116.38 1216.65,80.6 1216.8,44.82 1216.94,30 1217.09,44.82 1217.23,80.6 1217.38,116.38 1217.52,131.2 1217.67,116.38 1217.81,80.6 1217.96,44.82 1218.1,30 1218.25,44.82 1218.39,80.6 1218.53,116.38 1218.68,131.2 1218.82,116.38 1218.97,80.6 1219.11,44.82 1219.26,30 1219.4,44.82 1219.55,80.6 1219.69,116.38" fill="none" stroke="#000" stroke-width="1.75" stroke-linejoin="round" />
<line x1="1234.1" y1="80.6" x2="1234.1" y2="131.2" stroke="#000" stroke-width="1.5" />
<text transform="translate(1242.3,113.5) scale(1,1.05)" text-anchor="start" font-size="22.5" >50 pA</text>
<polyline points="1363,75.2 1363.3,77.6 1363.8,79 1364.4,78.87 1364.8,78.69 1365.2,78.38 1365.6,77.93 1366,77.34 1366.4,76.62 1366.8,75.75 1367.2,74.75 1367.6,73.62 1368,72.34 1368.4,70.93 1368.8,69.39 1369.2,67.71 1369.6,65.91 1370,63.98 1370.4,61.92 1370.8,59.75 1371.2,57.46 1371.6,55.07 1372,52.58 1372.4,50 1372.8,47.34 1373.2,44.61 1373.6,41.83 1374,39.01 1374.4,36.16 1374.8,33.31 1375.2,30.48 1375.6,27.69 1376,24.96 1376.4,22.32 1376.8,19.79 1377.2,17.42 1377.6,15.22 1378,13.23 1378.4,11.49 1378.8,10.02 1379.2,8.87 1379.6,8.07 1380,7.65 1380.4,7.65 1380.8,8.11 1381.2,9.05 1381.6,10.5 1382,12.47 1382.4,15 1382.8,18.09 1383.2,21.75 1383.6,25.98 1384,30.77 1384.4,36.11 1384.8,41.98 1385.2,48.33 1385.6,55.12 1386,62.29 1386.4,69.79 1386.8,77.52 1387.2,85.4 1387.6,93.34 1388,101.21 1388.4,108.92 1388.8,116.33 1389.2,123.31 1389.6,129.74 1390,135.49 1390.4,140.42 1390.8,144.42 1391.2,147.37 1391.6,149.17 1392,149.73 1392.4,149 1392.8,146.93 1393.2,143.5 1393.6,138.73 1394,132.67 1394.4,125.38 1394.8,116.99 1395.2,107.65 1395.6,97.52 1396,86.83 1396.4,75.82 1396.8,64.75 1397.2,53.9 1397.6,43.56 1398,34.05 1398.4,25.63 1398.8,18.6 1399.2,13.2 1399.6,9.64 1400,8.11 1400.4,8.71 1400.8,11.49 1401.2,16.44 1401.6,23.47 1402,32.41 1402.4,43.01 1402.8,54.95 1403.2,67.86 1403.6,81.29 1404,94.75 1404.4,107.75 1404.8,119.77 1405.2,130.3 1405.6,138.88 1406,145.1 1406.4,148.64 1406.8,149.27 1407.2,146.87 1407.6,141.48 1408,133.24 1408.4,122.47 1408.8,109.58 1409.2,95.13 1409.6,79.78 1410,64.26 1410.4,49.32 1410.8,35.75 1411.2,24.27 1411.6,15.55 1412,10.11 1412.4,8.34 1412.8,10.42 1413.2,16.33 1413.6,25.82 1414,38.44 1414.4,53.52 1414.8,70.21 1415.2,87.55 1415.6,104.48 1416,119.94 1416.4,132.9 1416.8,142.48 1417.2,147.98 1417.6,148.94 1418,145.19 1418.4,136.88 1418.8,124.5 1419.2,108.82 1419.6,90.89 1420,71.97 1420.4,53.43 1420.8,36.64 1421.2,22.93 1421.6,13.39 1422,8.87 1422.4,9.81 1422.8,16.26 1423.2,27.81 1423.6,43.6 1424.32,78.8 1424.86,105.64 1425.39,128.38 1425.92,143.56 1426.44,148.87 1426.95,143.52 1427.47,128.32 1427.98,105.59 1428.48,78.8 1428.98,52.03 1429.48,29.35 1429.97,14.21 1430.46,8.91 1430.95,14.25 1431.43,29.41 1431.91,52.08 1432.39,78.8 1432.86,105.5 1433.33,128.13 1433.8,143.23 1434.26,148.52 1434.72,143.19 1435.18,128.07 1435.63,105.46 1436.08,78.8 1436.53,52.16 1436.97,29.59 1437.42,14.52 1437.86,9.24 1438.3,14.56 1438.73,29.64 1439.16,52.2 1439.59,78.8 1440.02,105.38 1440.45,127.9 1440.87,142.94 1441.29,148.2 1441.71,142.9 1442.13,127.85 1442.54,105.34 1442.95,78.8 1443.36,52.28 1443.77,29.8 1444.17,14.8 1444.58,9.55 1444.98,14.83 1445.38,29.86 1445.78,52.32 1446.17,78.8 1446.56,105.27 1446.96,127.69 1447.35,142.67 1447.73,147.91 1448.12,142.63 1448.5,127.64 1448.89,105.23 1449.27,78.8 1449.65,52.39 1450.03,30 1450.4,15.06 1450.78,9.83 1451.15,15.09 1451.52,30.05 1451.89,52.42 1452.26,78.8 1452.62,105.16 1452.99,127.5 1453.35,142.42 1453.72,147.64 1454.08,142.39 1454.43,127.46 1454.79,105.13 1455.15,78.8 1455.5,52.49 1455.86,30.19 1456.21,15.3 1456.56,10.09 1456.91,15.33 1457.26,30.24 1457.61,52.52 1457.95,78.8 1458.3,105.07 1458.64,127.32 1458.98,142.18 1459.32,147.39 1459.66,142.15 1460,127.28 1460.34,105.03 1460.67,78.8 1461.01,52.58 1461.34,30.37 1461.67,15.53 1462,10.33 1462.33,15.56 1462.66,30.41 1462.99,52.62 1463.32,78.8 1463.64,104.97 1463.97,127.15 1464.29,141.96 1464.62,147.15 1464.94,141.93 1465.26,127.11 1465.58,104.94 1465.9,78.8 1466.21,52.67 1466.53,30.53 1466.85,15.75 1467.16,10.57 1467.47,15.77 1467.79,30.57 1468.1,52.7 1468.41,78.8 1468.72,104.89 1469.03,126.99 1469.34,141.75 1469.64,146.92 1469.95,141.72 1470.26,126.95 1470.56,104.85 1470.86,78.8 1471.17,52.76 1471.47,30.69 1471.77,15.95 1472.07,10.79 1472.37,15.98 1472.67,30.73 1472.97,52.79 1473.26,78.8 1473.56,104.8 1473.86,126.84 1474.15,141.55 1474.44,146.71 1474.74,141.52 1475.03,126.8 1475.32,104.77 1475.61,78.8 1475.9,52.84 1476.19,30.84 1476.48,16.15 1476.77,11 1477.05,16.17 1477.34,30.88 1477.63,52.87 1477.91,78.8 1478.2,104.72 1478.48,126.69 1478.76,141.36 1479.04,146.5 1479.33,141.33 1479.61,126.65 1479.89,104.69 1480.17,78.8 1480.44,52.92 1480.72,30.98 1481,16.34 1481.28,11.2 1481.55,16.36 1481.83,31.02 1482.1,52.95 1482.38,78.8 1482.65,104.64 1482.92,126.55 1483.19,141.17 1483.47,146.3 1483.74,141.15 1484.01,126.51 1484.28,104.62 1484.55,78.8 1484.82,52.99 1485.08,31.12 1485.35,16.52 1485.62,11.4 1485.88,16.54 1486.15,31.16 1486.41,53.02 1486.68,78.8 1486.94,104.57 1487.21,126.41 1487.47,140.99 1487.73,146.11 1487.99,140.97 1488.25,126.38 1488.51,104.54 1488.77,78.8 1489.03,53.07 1489.29,31.26 1489.55,16.69 1489.81,11.59 1490.07,16.71 1490.32,31.29 1490.58,53.09 1490.84,78.8 1491.09,104.5 1491.35,126.28 1491.6,140.82 1491.85,145.92 1492.11,140.8 1492.36,126.25 1492.61,104.47 1492.86,78.8 1493.11,53.14 1493.36,31.39 1493.62,16.86 1493.86,11.77 1494.11,16.88 1494.36,31.42 1494.61,53.16 1494.86,78.8 1495.11,104.43 1495.35,126.15 1495.6,140.65 1495.85,145.74 1496.09,140.63 1496.34,126.12 1496.58,104.4 1496.83,78.8 1497.07,53.2 1497.31,31.51 1497.56,17.03 1497.8,11.95 1498.04,17.05 1498.28,31.54 1498.52,53.23 1498.76,78.8 1499,104.36 1499.24,126.03 1499.48,140.49 1499.72,145.57 1499.96,140.47 1500.2,125.99 1500.44,104.34 1500.67,78.8 1500.91,53.27 1501.15,31.64 1501.38,17.19 1501.62,12.12 1501.85,17.21 1502.09,31.67 1502.32,53.29 1502.56,78.8 1502.79,104.3 1503.02,125.9 1503.26,140.34 1503.49,145.4 1503.72,140.32 1503.95,125.88 1504.19,104.27 1504.42,78.8 1504.65,53.34 1504.88,31.75 1505.11,17.34 1505.34,12.29 1505.57,17.36 1505.79,31.79 1506.02,53.36 1506.25,78.8 1506.48,104.23 1506.71,125.77 1506.93,140.16 1507.16,145.2 1507.39,140.14 1507.61,125.73 1507.84,104.2 1508.06,78.8 1508.29,53.42 1508.51,31.9 1508.73,17.54 1508.96,12.51 1509.18,17.57 1509.4,31.94 1509.63,53.45 1509.85,78.8 1510.07,104.14 1510.29,125.62 1510.51,139.96 1510.74,144.98 1510.96,139.93 1511.18,125.58 1511.4,104.11 1511.62,78.8 1511.84,53.5 1512.05,32.06 1512.27,17.74 1512.49,12.73 1512.71,17.77 1512.93,32.1 1513.15,53.53 1513.36,78.8 1513.58,104.06 1513.8,125.46 1514.01,139.76 1514.23,144.77 1514.44,139.73 1514.66,125.43 1514.87,104.03 1515.09,78.8 1515.3,53.58 1515.52,32.21 1515.73,17.94 1515.94,12.94 1516.16,17.97 1516.37,32.25 1516.58,53.61 1516.79,78.8 1517.01,103.98 1517.22,125.31 1517.43,139.56 1517.64,144.56 1517.85,139.54 1518.06,125.28 1518.27,103.95 1518.48,78.8 1518.69,53.66 1518.9,32.36 1519.11,18.13 1519.32,13.15 1519.53,18.16 1519.73,32.4 1519.94,53.69 1520.15,78.8 1520.36,103.9 1520.57,125.17 1520.77,139.37 1520.98,144.35 1521.18,139.35 1521.39,125.13 1521.6,103.87 1521.8,78.8 1522.01,53.74 1522.21,32.5 1522.42,18.32 1522.62,13.35 1522.83,18.35 1523.03,32.54 1523.23,53.77 1523.44,78.8 1523.64,103.82 1523.84,125.02 1524.04,139.18 1524.25,144.15 1524.45,139.16 1524.65,124.99 1524.85,103.79 1525.05,78.8 1525.46,32.65 1525.86,13.55 1526.26,32.68 1526.66,78.8 1527.05,124.88 1527.45,143.95 1527.85,124.85 1528.24,78.8 1528.64,32.78 1529.03,13.75 1529.42,32.82 1529.81,78.8 1530.2,124.75 1530.59,143.75 1530.98,124.71 1531.37,78.8 1531.75,32.92 1532.14,13.94 1532.53,32.96 1532.91,78.8 1533.29,124.61 1533.68,143.56 1534.06,124.58 1534.44,78.8 1534.82,33.06 1535.2,14.13 1535.57,33.09 1535.95,78.8 1536.33,124.48 1536.7,143.38 1537.08,124.45 1537.45,78.8 1537.83,33.19 1538.2,14.32 1538.57,33.22 1538.94,78.8 1539.31,124.35 1539.68,143.19 1540.05,124.32 1540.42,78.8 1540.78,33.32 1541.15,14.5 1541.51,33.35 1541.88,78.8 1542.24,124.22 1542.61,143.01 1542.97,124.19 1543.33,78.8 1543.69,33.44 1544.05,14.68 1544.41,33.47 1544.77,78.8 1545.13,124.09 1545.49,142.83 1545.84,124.06 1546.2,78.8 1546.55,33.57 1546.91,14.86 1547.26,33.6 1547.62,78.8 1547.97,123.97 1548.32,142.66 1548.67,123.94 1549.02,78.8 1549.37,33.69 1549.72,15.03 1550.07,33.72 1550.42,78.8 1550.77,123.85 1551.11,142.48 1551.46,123.82 1551.8,78.8 1552.15,33.81 1552.49,15.2 1552.84,33.84 1553.18,78.8 1553.52,123.73 1553.86,142.31 1554.2,123.7 1554.54,78.8 1554.88,33.93 1555.22,15.37 1555.56,33.96 1555.9,78.8 1556.24,123.61 1556.57,142.15 1556.91,123.58 1557.24,78.8 1557.58,34.05 1557.91,15.54 1558.25,34.08 1558.58,78.8 1558.91,123.49 1559.25,141.98 1559.58,123.46 1559.91,78.8 1560.24,34.17 1560.57,15.7 1560.9,34.2 1561.23,78.8 1561.56,123.38 1561.88,141.82 1562.21,123.35 1562.54,78.8 1562.86,34.28 1563.19,15.86 1563.51,34.31 1563.84,78.8 1564.16,123.26 1564.49,141.66 1564.81,123.23 1565.13,78.8 1565.45,34.4 1565.77,16.02 1566.1,34.42 1566.42,78.8 1566.74,123.15 1567.06,141.5 1567.37,123.12 1567.69,78.8 1568.01,34.51 1568.33,16.18 1568.64,34.53 1568.96,78.8 1569.28,123.04 1569.59,141.34 1569.91,123.01 1570.22,78.8 1570.54,34.62 1570.85,16.34 1571.16,34.65 1571.47,78.8 1571.79,122.93 1572.1,141.19 1572.41,122.9 1572.72,78.8 1573.03,34.73 1573.34,16.49 1573.65,34.75 1573.96,78.8 1574.27,122.82 1574.57,141.03 1574.88,122.79 1575.19,78.8 1575.5,34.83 1575.8,16.64 1576.11,34.86 1576.41,78.8 1576.72,122.71 1577.02,140.88 1577.33,122.69 1577.63,78.8 1577.93,34.94 1578.24,16.79 1578.54,34.97 1578.84,78.8 1579.14,122.61 1579.44,140.73 1579.74,122.58 1580.04,78.8 1580.34,35.05 1580.64,16.94 1580.94,35.07 1581.24,78.8 1581.54,122.5 1581.83,140.58 1582.13,122.48 1582.43,78.8 1582.73,35.15 1583.02,17.09 1583.32,35.18 1583.61,78.8 1583.91,122.4 1584.2,140.44 1584.5,122.37 1584.79,78.8 1585.08,35.25 1585.38,17.23 1585.67,35.28 1585.96,78.8 1586.25,122.3 1586.54,140.29 1586.83,122.27 1587.12,78.8 1587.41,35.36 1587.7,17.38 1587.99,35.38 1588.28,78.8 1588.57,122.19 1588.86,140.15 1589.15,122.17 1589.44,78.8 1589.72,35.46 1590.01,17.52 1590.3,35.48 1590.58,78.8 1590.87,122.09 1591.15,140.01 1591.44,122.07 1591.72,78.8 1592.01,35.56 1592.29,17.66 1592.58,35.58 1592.86,78.8 1593.14,121.99 1593.42,139.87 1593.71,121.97 1593.99,78.8 1594.27,35.66 1594.55,17.8 1594.83,35.68 1595.11,78.8 1595.39,121.9 1595.67,139.73 1595.95,121.87 1596.23,78.8 1596.51,35.75 1596.79,17.94 1597.07,35.78 1597.34,78.8 1597.62,121.8 1597.9,139.59 1598.18,121.77 1598.45,78.8 1598.73,35.85 1599.01,18.08 1599.28,35.87 1599.56,78.8 1599.83,121.7 1600.11,139.45 1600.38,121.68 1600.65,78.8 1600.93,35.95 1601.2,18.21 1601.47,35.97 1601.75,78.8 1602.02,121.61 1602.29,139.32 1602.56,121.58 1602.83,78.8 1603.1,36.05 1603.38,18.36 1603.65,36.07 1603.92,78.8 1604.19,121.5 1604.46,139.17 1604.73,121.47 1604.99,78.8 1605.26,36.15 1605.53,18.51 1605.8,36.18 1606.07,78.8 1606.33,121.39 1606.6,139.02 1606.87,121.37 1607.14,78.8 1607.4,36.26 1607.67,18.66 1607.93,36.29 1608.2,78.8 1608.46,121.28 1608.73,138.86 1608.99,121.26 1609.26,78.8 1609.52,36.37 1609.79,18.81 1610.05,36.39 1610.31,78.8 1610.58,121.18 1610.84,138.71 1611.1,121.15 1611.36,78.8 1611.62,36.47 1611.89,18.96 1612.15,36.5 1612.41,78.8 1612.67,121.07 1612.93,138.57 1613.19,121.05 1613.45,78.8 1613.71,36.58 1613.97,19.11 1614.23,36.6 1614.49,78.8 1614.74,120.97 1615,138.42 1615.26,120.94 1615.52,78.8 1615.78,36.68 1616.03,19.26 1616.29,36.71 1616.55,78.8 1616.8,120.87 1617.06,138.27 1617.32,120.84 1617.57,78.8 1617.83,36.79 1618.08,19.4 1618.34,36.81 1618.59,78.8 1618.85,120.76 1619.1,138.13 1619.35,120.74 1619.61,78.8 1619.86,36.89 1620.11,19.55 1620.37,36.91 1620.62,78.8 1620.87,120.66 1621.12,137.98 1621.38,120.64 1621.63,78.8 1621.88,36.99 1622.13,19.69 1622.38,37.01 1622.63,78.8 1622.88,120.56 1623.13,137.84 1623.38,120.53 1623.63,78.8 1623.88,37.09 1624.13,19.83 1624.38,37.12 1624.63,78.8 1624.88,120.46 1625.12,137.7 1625.37,120.43 1625.62,78.8 1625.87,37.19 1626.11,19.97 1626.36,37.22 1626.61,78.8 1626.86,120.36 1627.1,137.56 1627.35,120.34 1627.59,78.8 1627.84,37.29 1628.08,20.11 1628.33,37.31 1628.58,78.8 1628.82,120.26 1629.06,137.42 1629.31,120.24 1629.55,78.8 1629.8,37.39 1630.04,20.25 1630.28,37.41 1630.53,78.8 1630.77,120.16 1631.01,137.28 1631.26,120.14 1631.5,78.8 1631.74,37.49 1631.98,20.39 1632.22,37.51 1632.46,78.8 1632.71,120.07 1632.95,137.14 1633.19,120.04 1633.43,78.8 1633.67,37.58 1633.91,20.53 1634.15,37.61 1634.39,78.8 1634.63,119.97 1634.87,137 1635.11,119.94 1635.35,78.8 1635.58,37.68 1635.82,20.66 1636.06,37.7 1636.3,78.8 1636.54,119.87 1636.77,136.87 1637.01,119.85 1637.25,78.8 1637.49,37.77 1637.72,20.8 1637.96,37.8 1638.2,78.8 1638.43,119.78 1638.67,136.73 1638.9,119.75 1639.14,78.8 1639.37,37.87 1639.61,20.93 1639.84,37.89 1640.08,78.8 1640.31,119.68 1640.55,136.6 1640.78,119.66 1641.02,78.8 1641.25,37.96 1641.48,21.07 1641.72,37.99 1641.95,78.8 1642.18,119.59 1642.42,136.47 1642.65,119.57 1642.88,78.8 1643.11,38.06 1643.35,21.2 1643.58,38.08 1643.81,78.8 1644.04,119.5 1644.27,136.34 1644.5,119.47 1644.73,78.8 1644.96,38.15 1645.19,21.33 1645.43,38.17 1645.66,78.8 1645.89,119.4 1646.12,136.2 1646.34,119.38 1646.57,78.8 1646.8,38.24 1647.03,21.46 1647.26,38.27 1647.49,78.8 1647.72,119.31 1647.95,136.07 1648.17,119.29 1648.4,78.8 1648.63,38.34 1648.86,21.59 1649.08,38.36 1649.31,78.8 1649.54,119.22 1649.77,135.94 1649.99,119.2 1650.22,78.8 1650.45,38.43 1650.67,21.72 1650.9,38.45 1651.12,78.8 1651.35,119.13 1651.57,135.82 1651.8,119.11 1652.02,78.8 1652.25,38.52 1652.47,21.85 1652.7,38.54 1652.92,78.8 1653.15,119.04 1653.37,135.69 1653.59,119.01 1653.82,78.8 1654.04,38.61 1654.26,21.98 1654.49,38.63 1654.71,78.8 1654.93,118.95 1655.16,135.56 1655.38,118.93 1655.6,78.8 1655.82,38.7 1656.05,22.1 1656.27,38.72 1656.49,78.8 1656.71,118.86 1656.93,135.44 1657.15,118.84 1657.37,78.8 1657.59,38.79 1657.81,22.23 1658.03,38.81 1658.26,78.8 1658.48,118.77 1658.7,135.31 1658.91,118.75 1659.13,78.8 1659.35,38.87 1659.57,22.35 1659.79,38.9 1660.01,78.8 1660.23,118.68 1660.45,135.18 1660.67,118.66 1660.89,78.8 1661.1,38.96 1661.32,22.48 1661.54,38.98 1661.76,78.8 1661.97,118.59 1662.19,135.06 1662.41,118.57 1662.63,78.8 1662.84,39.05 1663.06,22.6 1663.28,39.07 1663.49,78.8 1663.71,118.51 1663.93,134.94 1664.14,118.48 1664.36,78.8 1664.57,39.14 1664.79,22.72 1665,39.16 1665.22,78.8 1665.43,118.42 1665.65,134.82 1665.86,118.4 1666.08,78.8 1666.29,39.22 1666.51,22.85 1666.72,39.25 1666.93,78.8 1667.15,118.33 1667.36,134.69 1667.58,118.31 1667.79,78.8 1668,39.31 1668.21,22.97 1668.43,39.33 1668.64,78.8 1668.85,118.25 1669.07,134.57 1669.28,118.23 1669.49,78.8 1669.7,39.4 1669.91,23.09 1670.13,39.42 1670.34,78.8 1670.55,118.16 1670.76,134.45 1670.97,118.14 1671.18,78.8 1671.39,39.48 1671.6,23.21 1671.81,39.5 1672.02,78.8 1672.23,118.08 1672.44,134.33 1672.65,118.06 1672.86,78.8 1673.07,39.56 1673.28,23.33 1673.49,39.59 1673.7,78.8 1673.91,117.99 1674.12,134.21 1674.33,117.97 1674.54,78.8 1674.75,39.65 1674.95,23.45 1675.16,39.67 1675.37,78.8 1675.58,117.91 1675.79,134.09 1675.99,117.89 1676.2,78.8 1676.41,39.73 1676.62,23.57 1676.82,39.75 1677.03,78.8 1677.24,117.83 1677.45,133.98 1677.65,117.8 1677.86,78.8 1678.06,39.82 1678.27,23.68 1678.48,39.84 1678.68,78.8 1678.89,117.74 1679.09,133.86 1679.3,117.72 1679.51,78.8 1679.71,39.9 1679.92,23.8 1680.12,39.92 1680.33,78.8 1680.53,117.66 1680.73,133.74 1680.94,117.64 1681.14,78.8 1681.35,39.98 1681.55,23.92 1681.76,40 1681.96,78.8 1682.16,117.58 1682.37,133.63 1682.57,117.56 1682.77,78.8 1682.98,40.06 1683.18,24.03 1683.38,40.08 1683.59,78.8 1683.79,117.5 1683.99,133.51 1684.19,117.48 1684.4,78.8 1684.6,40.14 1684.8,24.15 1685,40.16 1685.2,78.8 1685.41,117.41 1685.61,133.4 1685.81,117.39 1686.01,78.8 1686.21,40.23 1686.41,24.26 1686.61,40.25 1686.81,78.8 1687.01,117.33 1687.21,133.28 1687.41,117.31 1687.61,78.8 1687.81,40.31 1688.01,24.38 1688.21,40.33 1688.41,78.8 1688.61,117.25 1688.81,133.17 1689.01,117.23 1689.21,78.8 1689.41,40.39 1689.61,24.49 1689.81,40.41 1690.01,78.8 1690.21,117.17 1690.41,133.05 1690.6,117.15 1690.8,78.8 1691,40.47 1691.2,24.6 1691.4,40.49 1691.59,78.8 1691.79,117.09 1691.99,132.94 1692.19,117.07 1692.38,78.8 1692.58,40.55 1692.78,24.71 1692.98,40.57 1693.17,78.8 1693.37,117.01 1693.57,132.83 1693.76,116.99 1693.96,78.8 1694.16,40.63 1694.35,24.83 1694.55,40.64 1694.74,78.8 1694.94,116.94 1695.13,132.72 1695.33,116.92 1695.53,78.8 1695.72,40.7 1695.92,24.94 1696.11,40.72 1696.31,78.8 1696.5,116.86 1696.7,132.61 1696.89,116.84 1697.09,78.8 1697.28,40.78 1697.47,25.05 1697.67,40.8 1697.86,78.8 1698.06,116.78 1698.25,132.5 1698.44,116.76 1698.64,78.8 1698.83,40.86 1699.02,25.16 1699.22,40.88 1699.41,78.8 1699.6,116.7 1699.8,132.39 1699.99,116.68 1700.18,78.8 1700.38,40.93 1700.57,25.26 1700.76,40.95 1700.95,78.8 1701.15,116.64 1701.34,132.3 1701.53,116.62 1701.72,78.8 1701.91,41 1702.1,25.35 1702.3,41.01 1702.49,78.8 1702.68,116.57 1702.87,132.21 1703.06,116.56 1703.25,78.8 1703.44,41.06 1703.63,25.44 1703.82,41.08 1704.02,78.8 1704.21,116.51 1704.4,132.12 1704.59,116.49 1704.78,78.8 1704.97,41.12 1705.16,25.53 1705.35,41.14 1705.54,78.8 1705.73,116.44 1705.92,132.03 1706.1,116.43 1706.29,78.8 1706.48,41.19 1706.67,25.62 1706.86,41.2 1707.05,78.8 1707.24,116.38 1707.43,131.94 1707.62,116.36 1707.81,78.8 1707.99,41.25 1708.18,25.71 1708.37,41.27 1708.56,78.8 1708.75,116.32 1708.93,131.85 1709.12,116.3 1709.31,78.8 1709.5,41.31 1709.68,25.8 1709.87,41.33 1710.06,78.8 1710.25,116.25 1710.43,131.76 1710.62,116.24 1710.81,78.8 1710.99,41.38 1711.18,25.89 1711.37,41.39 1711.55,78.8 1711.74,116.19 1711.93,131.67 1712.11,116.18 1712.3,78.8 1712.48,41.44 1712.67,25.97 1712.86,41.45 1713.04,78.8 1713.23,116.13 1713.41,131.58 1713.6,116.11 1713.78,78.8 1713.97,41.5 1714.15,26.06 1714.34,41.52 1714.52,78.8 1714.71,116.07 1714.89,131.49 1715.08,116.05 1715.26,78.8 1715.45,41.56 1715.63,26.15 1715.81,41.58 1716,78.8 1716.18,116.01 1716.37,131.41 1716.55,115.99 1716.73,78.8 1716.92,41.63 1717.1,26.24 1717.28,41.64 1717.47,78.8 1717.65,115.94 1717.83,131.32 1718.02,115.93 1718.2,78.8 1718.38,41.69 1718.57,26.32 1718.75,41.7 1718.93,78.8 1719.11,115.88 1719.3,131.23 1719.48,115.87 1719.66,78.8 1719.84,41.75 1720.02,26.41 1720.21,41.76 1720.39,78.8 1720.57,115.82 1720.75,131.15 1720.93,115.81 1721.11,78.8 1721.3,41.81 1721.48,26.5 1721.66,41.82 1721.84,78.8 1722.02,115.76 1722.2,131.06 1722.38,115.75 1722.56,78.8 1722.74,41.87 1722.92,26.58 1723.1,41.88 1723.29,78.8 1723.47,115.7 1723.65,130.97 1723.83,115.69 1724.01,78.8 1724.19,41.93 1724.37,26.67 1724.55,41.94 1724.72,78.8 1724.9,115.64 1725.08,130.89 1725.26,115.62 1725.44,78.8 1725.62,41.99 1725.8,26.75 1725.98,42.01 1726.16,78.8 1726.34,115.58 1726.52,130.8 1726.69,115.56 1726.87,78.8 1727.05,42.05 1727.23,26.84 1727.41,42.06 1727.59,78.8 1727.77,115.52 1727.94,130.72 1728.12,115.51 1728.3,78.8 1728.48,42.11 1728.65,26.92 1728.83,42.12 1729.01,78.8 1729.19,115.46 1729.36,130.64 1729.54,115.45 1729.72,78.8 1729.9,42.17 1730.07,27.01 1730.25,42.18 1730.43,78.8 1730.6,115.4 1730.78,130.55 1730.96,115.39 1731.13,78.8 1731.31,42.23 1731.49,27.09 1731.66,42.24 1731.84,78.8 1732.01,115.34 1732.19,130.47 1732.37,115.33 1732.54,78.8 1732.72,42.29 1732.89,27.17 1733.07,42.3 1733.24,78.8 1733.42,115.28 1733.6,130.38 1733.77,115.27 1733.95,78.8 1734.12,42.35 1734.3,27.26 1734.47,42.36 1734.65,78.8 1734.82,115.22 1734.99,130.3 1735.17,115.21 1735.34,78.8 1735.52,42.4 1735.69,27.34 1735.87,42.42 1736.04,78.8 1736.22,115.17 1736.39,130.22 1736.56,115.15 1736.74,78.8 1736.91,42.46 1737.08,27.42 1737.26,42.48 1737.43,78.8 1737.61,115.11 1737.78,130.14 1737.95,115.09 1738.12,78.8 1738.3,42.52 1738.47,27.5 1738.64,42.54 1738.82,78.8 1738.99,115.05 1739.16,130.05 1739.34,115.03 1739.51,78.8 1739.68,42.58 1739.85,27.59 1740.02,42.59 1740.2,78.8 1740.37,114.99 1740.54,129.97 1740.71,114.98 1740.89,78.8 1741.06,42.64 1741.23,27.67 1741.4,42.65 1741.57,78.8 1741.74,114.93 1741.92,129.89 1742.09,114.92 1742.26,78.8 1742.43,42.69 1742.6,27.75 1742.77,42.71 1742.94,78.8 1743.11,114.88 1743.28,129.81 1743.45,114.86 1743.63,78.8 1743.8,42.75 1743.97,27.83 1744.14,42.77 1744.31,78.8 1744.48,114.82 1744.65,129.73 1744.82,114.81 1744.99,78.8 1745.16,42.81 1745.33,27.91 1745.5,42.82 1745.67,78.8 1745.84,114.76 1746.01,129.65 1746.18,114.75 1746.35,78.8 1746.52,42.87 1746.69,27.99 1746.85,42.88 1747.02,78.8 1747.19,114.71 1747.36,129.57 1747.53,114.69 1747.7,78.8 1747.87,42.92 1748.04,28.07 1748.21,42.94 1748.37,78.8 1748.54,114.65 1748.71,129.49 1748.88,114.63 1749.05,78.8 1749.22,42.98 1749.38,28.15 1749.55,42.99 1749.72,78.8 1749.89,114.59 1750.06,129.41 1750.22,114.58 1750.39,78.8 1750.56,43.04 1750.73,28.23 1750.89,43.05 1751.06,78.8 1751.23,114.54 1751.4,129.33 1751.56,114.52 1751.73,78.8 1751.9,43.09 1752.06,28.31 1752.23,43.11 1752.4,78.8 1752.56,114.48 1752.73,129.25 1752.9,114.47 1753.06,78.8 1753.23,43.15 1753.4,28.39 1753.56,43.16 1753.73,78.8 1753.9,114.42 1754.06,129.17 1754.23,114.41 1754.39,78.8 1754.56,43.2 1754.73,28.47 1754.89,43.22 1755.06,78.8 1755.22,114.37 1755.39,129.09 1755.55,114.35 1755.72,78.8 1755.89,43.26 1756.05,28.55 1756.22,43.27 1756.38,78.8 1756.55,114.31 1756.71,129.01 1756.88,114.3 1757.04,78.8 1757.21,43.31 1757.37,28.63 1757.53,43.33 1757.7,78.8 1757.86,114.26 1758.03,128.94 1758.19,114.24 1758.36,78.8 1758.52,43.37 1758.69,28.7 1758.85,43.38 1759.01,78.8 1759.18,114.2 1759.34,128.86 1759.51,114.19 1759.67,78.8 1759.83,43.42 1760,28.78 1760.16,43.44 1760.32,78.8 1760.49,114.15 1760.65,128.78 1760.81,114.13 1760.98,78.8 1761.14,43.48 1761.3,28.86 1761.47,43.49 1761.63,78.8 1761.79,114.09 1761.95,128.7 1762.12,114.08 1762.28,78.8 1762.44,43.53 1762.61,28.94 1762.77,43.55 1762.93,78.8 1763.09,114.04 1763.25,128.63 1763.42,114.03 1763.58,78.8 1763.74,43.59 1763.9,29.01 1764.07,43.6 1764.23,78.8 1764.39,113.98 1764.55,128.55 1764.71,113.97 1764.87,78.8 1765.04,43.64 1765.2,29.09 1765.36,43.66 1765.52,78.8 1765.68,113.93 1765.84,128.47 1766,113.92 1766.16,78.8 1766.33,43.7 1766.49,29.17 1766.65,43.71 1766.81,78.8 1766.97,113.88 1767.13,128.4 1767.29,113.86 1767.45,78.8 1767.61,43.75 1767.77,29.24 1767.93,43.76 1768.09,78.8 1768.25,113.82 1768.41,128.32 1768.57,113.81 1768.73,78.8 1768.89,43.8 1769.05,29.32 1769.21,43.82 1769.37,78.8 1769.53,113.77 1769.69,128.24 1769.85,113.76 1770.01,78.8 1770.17,43.86 1770.33,29.39 1770.49,43.87 1770.65,78.8 1770.81,113.72 1770.97,128.17 1771.13,113.7 1771.29,78.8 1771.45,43.91 1771.6,29.47 1771.76,43.92 1771.92,78.8 1772.08,113.66 1772.24,128.09 1772.4,113.65 1772.56,78.8 1772.72,43.96 1772.87,29.54 1773.03,43.98 1773.19,78.8 1773.35,113.61 1773.51,128.02 1773.67,113.6 1773.82,78.8 1773.98,44.02 1774.14,29.62 1774.3,44.03 1774.46,78.8 1774.61,113.56 1774.77,127.94 1774.93,113.54 1775.09,78.8 1775.24,44.07 1775.4,29.69 1775.56,44.08 1775.72,78.8 1775.87,113.5 1776.03,127.87 1776.19,113.49 1776.35,78.8 1776.5,44.12 1776.66,29.77 1776.82,44.14 1776.97,78.8 1777.13,113.45 1777.29,127.79 1777.44,113.44 1777.6,78.8 1777.76,44.18 1777.91,29.84 1778.07,44.19 1778.23,78.8 1778.38,113.4 1778.54,127.72 1778.7,113.38 1778.85,78.8 1779.01,44.23 1779.16,29.92 1779.32,44.24 1779.48,78.8 1779.63,113.35 1779.79,127.65 1779.94,113.33 1780.1,78.8 1780.25,44.28 1780.41,29.99 1780.57,44.29 1780.72,78.8 1780.88,113.29 1781.03,127.57 1781.19,113.28 1781.34,78.8 1781.5,44.33 1781.65,30.07 1781.81,44.35 1781.96,78.8 1782.12,113.24 1782.27,127.5 1782.43,113.23 1782.58,78.8 1782.74,44.38 1782.89,30.14 1783.05,44.4 1783.2,78.8 1783.36,113.19 1783.51,127.42 1783.66,113.18 1783.82,78.8 1783.97,44.44 1784.13,30.21 1784.28,44.45 1784.44,78.8 1784.59,113.14 1784.74,127.35 1784.9,113.12 1785.05,78.8 1785.21,44.49 1785.36,30.28 1785.51,44.5 1785.67,78.8 1785.82,113.09 1785.97,127.28 1786.13,113.07 1786.28,78.8 1786.43,44.54 1786.59,30.36 1786.74,44.55 1786.89,78.8 1787.05,113.03 1787.2,127.21 1787.35,113.02 1787.51,78.8 1787.66,44.59 1787.81,30.43 1787.96,44.6 1788.12,78.8 1788.27,112.98 1788.42,127.13 1788.58,112.97 1788.73,78.8 1788.88,44.64 1789.03,30.5 1789.19,44.66 1789.34,78.8 1789.49,112.93 1789.64,127.06 1789.79,112.92 1789.95,78.8 1790.1,44.69 1790.25,30.57 1790.4,44.71 1790.55,78.8 1790.71,112.88 1790.86,126.99 1791.01,112.87 1791.16,78.8 1791.31,44.74 1791.46,30.65 1791.62,44.76 1791.77,78.8 1791.92,112.83 1792.07,126.92 1792.22,112.82 1792.37,78.8 1792.52,44.79 1792.68,30.72 1792.83,44.81 1792.98,78.8 1793.13,112.78 1793.28,126.85 1793.43,112.77 1793.58,78.8 1793.73,44.85 1793.88,30.79 1794.03,44.86 1794.18,78.8 1794.33,112.73 1794.48,126.77 1794.64,112.72 1794.79,78.8 1794.94,44.9 1795.09,30.86 1795.24,44.91 1795.39,78.8 1795.54,112.68 1795.69,126.7 1795.84,112.67 1795.99,78.8 1796.14,44.95 1796.29,30.93 1796.44,44.96 1796.59,78.8 1796.74,112.63 1796.89,126.63 1797.04,112.62 1797.19,78.8 1797.33,45 1797.48,31 1797.63,45.01 1797.78,78.8 1797.93,112.58 1798.08,126.56 1798.23,112.57 1798.38,78.8 1798.53,45.05 1798.68,31.07 1798.83,45.06 1798.98,78.8 1799.12,112.53 1799.27,126.49 1799.42,112.52 1799.57,78.8 1799.72,45.1 1799.87,31.15 1800.02,45.11 1800.17,78.8 1800.31,112.48 1800.46,126.42 1800.61,112.47 1800.76,78.8 1800.91,45.15 1801.06,31.22 1801.2,45.16 1801.35,78.8 1801.5,112.43 1801.65,126.35 1801.8,112.42 1801.94,78.8 1802.09,45.2 1802.24,31.29 1802.39,45.21 1802.54,78.8 1802.68,112.38 1802.83,126.28 1802.98,112.37 1803.13,78.8 1803.27,45.25 1803.42,31.36 1803.57,45.26 1803.72,78.8 1803.86,112.33 1804.01,126.21 1804.16,112.32 1804.3,78.8 1804.45,45.3 1804.6,31.43 1804.75,45.31 1804.89,78.8 1805.04,112.28 1805.19,126.14 1805.33,112.27 1805.48,78.8 1805.63,45.34 1805.77,31.5 1805.92,45.36 1806.07,78.8 1806.21,112.23 1806.36,126.07 1806.51,112.22 1806.65,78.8 1806.8,45.39 1806.95,31.56 1807.09,45.41 1807.24,78.8 1807.38,112.18 1807.53,126 1807.68,112.17 1807.82,78.8 1807.97,45.44 1808.11,31.63 1808.26,45.45 1808.41,78.8 1808.55,112.13 1808.7,125.93 1808.84,112.12 1808.99,78.8 1809.13,45.49 1809.28,31.7 1809.42,45.5 1809.57,78.8 1809.72,112.08 1809.86,125.86 1810.01,112.07 1810.15,78.8 1810.3,45.54 1810.44,31.77 1810.59,45.55 1810.73,78.8 1810.88,112.04 1811.02,125.79 1811.17,112.02 1811.31,78.8 1811.46,45.59 1811.6,31.84 1811.75,45.6 1811.89,78.8 1812.03,111.99 1812.18,125.72 1812.32,111.97 1812.47,78.8 1812.61,45.64 1812.76,31.91 1812.9,45.64" fill="none" stroke="#000" stroke-width="1.75" stroke-linejoin="round" />
<line x1="1823.6" y1="93.7" x2="1823.6" y2="142.9" stroke="#000" stroke-width="1.5" />
<text transform="translate(1832.8,126.1) scale(1,1.05)" text-anchor="start" font-size="22.5" >20 mV</text>
<line x1="1696.6" y1="152.4" x2="1808.6" y2="152.4" stroke="#000" stroke-width="1.5" />
<text transform="translate(1756.4,179.2) scale(1,1.05)" text-anchor="middle" font-size="22.5" >5 s</text>
<line x1="863.6" y1="177.3" x2="863.6" y2="452.8" stroke="#000" stroke-width="1.6" />
<line x1="847.7" y1="177.3" x2="863.6" y2="177.3" stroke="#000" stroke-width="1.6" />
<line x1="847.7" y1="231.9" x2="863.6" y2="231.9" stroke="#000" stroke-width="1.6" />
<line x1="847.7" y1="286.8" x2="863.6" y2="286.8" stroke="#000" stroke-width="1.6" />
<line x1="847.7" y1="341.2" x2="863.6" y2="341.2" stroke="#000" stroke-width="1.6" />
<line x1="847.7" y1="396.1" x2="863.6" y2="396.1" stroke="#000" stroke-width="1.6" />
<line x1="847.7" y1="450.5" x2="863.6" y2="450.5" stroke="#000" stroke-width="1.6" />
<line x1="863.6" y1="452.8" x2="1138.8" y2="452.8" stroke="#000" stroke-width="1.6" />
<line x1="865.9" y1="452.8" x2="865.9" y2="469.6" stroke="#000" stroke-width="1.6" />
<text transform="translate(865.9,497.4) scale(1,1.05)" text-anchor="middle" font-size="22.5" >0</text>
<line x1="920.48" y1="452.8" x2="920.48" y2="469.6" stroke="#000" stroke-width="1.6" />
<text transform="translate(920.48,497.4) scale(1,1.05)" text-anchor="middle" font-size="22.5" >20</text>
<line x1="975.06" y1="452.8" x2="975.06" y2="469.6" stroke="#000" stroke-width="1.6" />
<text transform="translate(975.06,497.4) scale(1,1.05)" text-anchor="middle" font-size="22.5" >40</text>
<line x1="1029.64" y1="452.8" x2="1029.64" y2="469.6" stroke="#000" stroke-width="1.6" />
<text transform="translate(1029.64,497.4) scale(1,1.05)" text-anchor="middle" font-size="22.5" >60</text>
<line x1="1084.22" y1="452.8" x2="1084.22" y2="469.6" stroke="#000" stroke-width="1.6" />
<text transform="translate(1084.22,497.4) scale(1,1.05)" text-anchor="middle" font-size="22.5" >80</text>
<line x1="1138.8" y1="452.8" x2="1138.8" y2="469.6" stroke="#000" stroke-width="1.6" />
<text transform="translate(1138.8,497.4) scale(1,1.05)" text-anchor="middle" font-size="22.5" >100</text>
<text transform="translate(1002.4,529) scale(1,1.05)" text-anchor="middle" font-size="22.5" >Frequency (Hz)</text>
<text transform="translate(823.2,313.3) rotate(-90) scale(1,1.05)" text-anchor="middle" font-size="22.5" ><tspan font-style="italic">I</tspan> Magnitude (a.u.)</text>
<polyline points="865.9,352.3 868.6,310.5 869.6,314.3 1060,314.3 1060,314.46 1060.3,314.14 1060.6,314.46 1060.9,314.14 1061.2,314.46 1061.5,314.14 1061.8,314.46 1062.1,314.14 1062.4,314.46 1062.7,314.14 1063,314.46 1063.3,314.14 1063.6,314.46 1063.9,314.14 1064.2,314.46 1064.5,314.14 1064.8,314.46 1065.1,314.14 1065.4,314.46 1065.7,314.14 1066,314.46 1066.3,314.14 1066.6,314.46 1066.9,314.14 1067.2,314.46 1067.5,314.14 1067.8,314.46 1068.1,314.14 1068.4,314.46 1068.7,314.14 1069,314.46 1069.3,314.14 1069.6,314.47 1069.9,314.13 1070.2,314.47 1070.5,314.13 1070.8,314.47 1071.1,314.13 1071.4,314.47 1071.7,314.13 1072,314.47 1072.3,314.13 1072.6,314.47 1072.9,314.13 1073.2,314.47 1073.5,314.13 1073.8,314.47 1074.1,314.13 1074.4,314.48 1074.7,314.12 1075,314.48 1075.3,314.12 1075.6,314.48 1075.9,314.12 1076.2,314.48 1076.5,314.12 1076.8,314.48 1077.1,314.12 1077.4,314.48 1077.7,314.11 1078,314.49 1078.3,314.11 1078.6,314.49 1078.9,314.11 1079.2,314.49 1079.5,314.11 1079.8,314.49 1080.1,314.1 1080.4,314.5 1080.7,314.1 1081,314.5 1081.3,314.1 1081.6,314.5 1081.9,314.09 1082.2,314.51 1082.5,314.09 1082.8,314.51 1083.1,314.09 1083.4,314.52 1083.7,314.08 1084,314.52 1084.3,314.08 1084.6,314.52 1084.9,314.07 1085.2,314.53 1085.5,314.07 1085.8,314.53 1086.1,314.06 1086.4,314.54 1086.7,314.06 1087,314.55 1087.3,314.05 1087.6,314.55 1087.9,314.04 1088.2,314.56 1088.5,314.04 1088.8,314.57 1089.1,314.03 1089.4,314.57 1089.7,314.02 1090,314.58 1090.3,314.01 1090.6,314.59 1090.9,314 1091.2,314.6 1091.5,314 1091.8,314.61 1092.1,313.98 1092.4,314.62 1092.7,313.97 1093,314.63 1093.3,313.96 1093.6,314.64 1093.9,313.95 1094.2,314.66 1094.5,313.94 1094.8,314.67 1095.1,313.92 1095.4,314.68 1095.7,313.91 1096,314.7 1096.3,313.89 1096.6,314.72 1096.9,313.87 1097.2,314.73 1097.5,313.86 1097.8,314.75 1098.1,313.84 1098.4,314.77 1098.7,313.82 1099,314.79 1099.3,313.79 1099.6,314.82 1099.9,313.77 1100.2,314.84 1100.5,313.75 1100.8,314.87 1101.1,313.72 1101.4,314.89 1101.7,313.69 1102,314.92 1102.3,313.66 1102.6,314.95 1102.9,313.63 1103.2,314.99 1103.5,313.6 1103.8,315.02 1104.1,313.56 1104.4,315.06 1104.7,313.52 1105,315.1 1105.3,313.48 1105.6,315.14 1105.9,313.43 1106.2,315.19 1106.5,313.39 1106.8,315.24 1107.1,313.34 1107.4,315.29 1107.7,313.28 1108,315.35 1108.3,313.23 1108.6,315.4 1108.9,313.16 1109.2,315.47 1109.5,313.1 1109.8,315.53 1110.1,313.03 1110.4,315.61 1110.7,312.96 1111,315.68 1111.3,312.88 1111.6,315.76 1111.9,312.79 1112.2,315.85 1112.5,312.7 1112.8,315.94 1113.1,312.61 1113.4,316.04 1113.7,312.51 1114,316.15 1114.3,312.4 1114.6,316.26 1114.9,312.28 1115.2,316.38 1115.5,312.16 1115.8,316.5 1116.1,312.03 1116.4,316.64 1116.7,311.89 1117,316.78 1117.3,311.74 1117.6,316.94 1117.9,311.58 1118.2,317.1 1118.5,311.41 1118.8,317.28 1119.1,311.23 1119.4,317.46 1119.7,311.04 1120,317.66 1120.3,310.84 1120.6,317.87 1120.9,310.62 1121.2,318.1 1121.5,310.38 1121.8,318.34 1122.1,310.14 1122.4,318.59 1122.7,309.87 1123,318.87 1123.3,309.59 1123.6,319.16 1123.9,309.29 1124.2,319.47 1124.5,308.97 1124.8,319.8 1125.1,308.63 1125.4,320.15 1125.7,308.26 1126,320.53 1126.3,307.87 1126.6,320.93 1126.9,307.46 1127.2,321.36 1127.5,307.02 1127.8,321.81 1128.1,306.55 1128.4,322.3 1128.7,306.05 1129,322.81 1129.3,305.51 1129.6,323.37 1129.9,304.95 1130.2,323.95 1130.5,304.34 1130.8,324.58 1131.1,303.69 1131.4,325.25 1131.7,303 1132,325.96 1132.3,302.27 1132.6,326.72 1132.9,301.48 1133.2,327.53 1133.5,300.65 1133.8,328.39 1134.1,299.76 1134.4,329.3 1134.7,299.3 1135,329.3 1135.3,299.3 1135.6,329.3 1135.9,299.3 1136.3,290.5 1136.9,325 1137.3,305 1138.9,381.7" fill="none" stroke="#000" stroke-width="1.8" stroke-linejoin="round" />
<line x1="1455.6" y1="178.1" x2="1455.6" y2="452.8" stroke="#000" stroke-width="1.6" />
<line x1="1439.1" y1="195.7" x2="1455.6" y2="195.7" stroke="#000" stroke-width="1.6" />
<line x1="1439.1" y1="241.4" x2="1455.6" y2="241.4" stroke="#000" stroke-width="1.6" />
<line x1="1439.1" y1="286.8" x2="1455.6" y2="286.8" stroke="#000" stroke-width="1.6" />
<line x1="1439.1" y1="332.3" x2="1455.6" y2="332.3" stroke="#000" stroke-width="1.6" />
<line x1="1439.1" y1="377.4" x2="1455.6" y2="377.4" stroke="#000" stroke-width="1.6" />
<line x1="1439.1" y1="422.6" x2="1455.6" y2="422.6" stroke="#000" stroke-width="1.6" />
<line x1="1455.6" y1="452.8" x2="1730.1" y2="452.8" stroke="#000" stroke-width="1.6" />
<line x1="1457.8" y1="452.8" x2="1457.8" y2="469.6" stroke="#000" stroke-width="1.6" />
<text transform="translate(1457.8,497.4) scale(1,1.05)" text-anchor="middle" font-size="22.5" >0</text>
<line x1="1512.26" y1="452.8" x2="1512.26" y2="469.6" stroke="#000" stroke-width="1.6" />
<text transform="translate(1512.26,497.4) scale(1,1.05)" text-anchor="middle" font-size="22.5" >20</text>
<line x1="1566.72" y1="452.8" x2="1566.72" y2="469.6" stroke="#000" stroke-width="1.6" />
<text transform="translate(1566.72,497.4) scale(1,1.05)" text-anchor="middle" font-size="22.5" >40</text>
<line x1="1621.18" y1="452.8" x2="1621.18" y2="469.6" stroke="#000" stroke-width="1.6" />
<text transform="translate(1621.18,497.4) scale(1,1.05)" text-anchor="middle" font-size="22.5" >60</text>
<line x1="1675.64" y1="452.8" x2="1675.64" y2="469.6" stroke="#000" stroke-width="1.6" />
<text transform="translate(1675.64,497.4) scale(1,1.05)" text-anchor="middle" font-size="22.5" >80</text>
<line x1="1730.1" y1="452.8" x2="1730.1" y2="469.6" stroke="#000" stroke-width="1.6" />
<text transform="translate(1730.1,497.4) scale(1,1.05)" text-anchor="middle" font-size="22.5" >100</text>
<text transform="translate(1594,529) scale(1,1.05)" text-anchor="middle" font-size="22.5" >Frequency (Hz)</text>
<text transform="translate(1411.3,312.8) rotate(-90) scale(1,1.05)" text-anchor="middle" font-size="22.5" ><tspan font-style="italic">V</tspan> Magnitude (a.u.)</text>
<path d="M1461.6,209.3 C1462.23,209.55 1463.48,209.13 1465.4,210.8 C1467.32,212.47 1470.53,215.58 1473.1,219.3 C1475.67,223.02 1478.23,227.97 1480.8,233.1 C1483.37,238.23 1485.93,244.2 1488.5,250.1 C1491.07,256 1493.63,262.87 1496.2,268.5 C1498.77,274.13 1501.33,279.02 1503.9,283.9 C1506.47,288.78 1509.03,293.3 1511.6,297.8 C1514.17,302.3 1516.73,306.92 1519.3,310.9 C1521.87,314.88 1523.15,316.82 1527,321.7 C1530.85,326.58 1537.27,334.82 1542.4,340.2 C1547.53,345.58 1552.67,349.77 1557.8,354 C1562.93,358.23 1568.07,362.07 1573.2,365.6 C1578.33,369.13 1583.17,372.15 1588.6,375.2 C1594.03,378.25 1600.3,381.17 1605.8,383.9 C1611.3,386.63 1616.33,389.27 1621.6,391.6 C1626.87,393.93 1632.13,396 1637.4,397.9 C1642.67,399.8 1647.95,401.42 1653.2,403 C1658.45,404.58 1663.65,406.02 1668.9,407.4 C1674.15,408.78 1679.43,410.12 1684.7,411.3 C1689.97,412.48 1695.23,413.45 1700.5,414.5 C1705.77,415.55 1713.05,416.98 1716.3,417.6 C1719.55,418.22 1719.38,418.1 1720,418.2" fill="none" stroke="#000" stroke-width="1.8"/>
<polyline points="1457.7,282.4 1459.3,230 1460.5,200.5 1461.2,212 1461.8,204 1462.4,211 1463.2,207 1464,210.5" fill="none" stroke="#000" stroke-width="1.5" stroke-linejoin="round" />
<polyline points="1716,419.08 1716.3,417.35 1716.6,419.25 1716.9,417.42 1717.2,419.42 1717.5,417.49 1717.8,419.61 1718.1,417.54 1718.4,419.8 1718.7,417.58 1719,420 1719.3,417.61 1719.6,420.22 1719.9,417.63 1720.2,420.45 1720.5,417.62 1720.8,420.7 1721.1,417.6 1721.4,420.98 1721.7,417.56 1722,421.27 1722.3,417.49 1722.6,421.6 1722.9,417.39 1723.2,421.96 1723.5,417.25 1723.8,422.36 1724.1,417.07 1724.4,422.8 1724.7,416.84 1725,423.3 1725.3,416.55 1725.6,423.85 1725.9,416.2 1726.2,424.48 1726.5,415.78 1726.8,425.19 1727.1,415.26 1727.4,425.99 1727.7,414.65 1728,426.91 1728,410.9 1728.6,424 1730.5,443.7" fill="none" stroke="#000" stroke-width="1.3" stroke-linejoin="round" />
<line x1="110" y1="629" x2="110" y2="1000" stroke="#000" stroke-width="1.6" />
<line x1="94.5" y1="992.9" x2="110" y2="992.9" stroke="#000" stroke-width="1.6" />
<text transform="translate(87.2,1001.3) scale(1,1.05)" text-anchor="end" font-size="22.5" >0</text>
<line x1="94.5" y1="932.33" x2="110" y2="932.33" stroke="#000" stroke-width="1.6" />
<text transform="translate(87.2,940.73) scale(1,1.05)" text-anchor="end" font-size="22.5" >100</text>
<line x1="94.5" y1="871.76" x2="110" y2="871.76" stroke="#000" stroke-width="1.6" />
<text transform="translate(87.2,880.16) scale(1,1.05)" text-anchor="end" font-size="22.5" >200</text>
<line x1="94.5" y1="811.19" x2="110" y2="811.19" stroke="#000" stroke-width="1.6" />
<text transform="translate(87.2,819.59) scale(1,1.05)" text-anchor="end" font-size="22.5" >300</text>
<line x1="94.5" y1="750.62" x2="110" y2="750.62" stroke="#000" stroke-width="1.6" />
<text transform="translate(87.2,759.02) scale(1,1.05)" text-anchor="end" font-size="22.5" >400</text>
<line x1="94.5" y1="690.05" x2="110" y2="690.05" stroke="#000" stroke-width="1.6" />
<text transform="translate(87.2,698.45) scale(1,1.05)" text-anchor="end" font-size="22.5" >500</text>
<line x1="94.5" y1="629.48" x2="110" y2="629.48" stroke="#000" stroke-width="1.6" />
<text transform="translate(87.2,637.88) scale(1,1.05)" text-anchor="end" font-size="22.5" >600</text>
<line x1="110" y1="1000" x2="480.8" y2="1000" stroke="#000" stroke-width="1.6" />
<line x1="117.1" y1="1000" x2="117.1" y2="1016" stroke="#000" stroke-width="1.6" />
<line x1="189.7" y1="1000" x2="189.7" y2="1016" stroke="#000" stroke-width="1.6" />
<line x1="262.3" y1="1000" x2="262.3" y2="1016" stroke="#000" stroke-width="1.6" />
<line x1="334.9" y1="1000" x2="334.9" y2="1016" stroke="#000" stroke-width="1.6" />
<line x1="407.5" y1="1000" x2="407.5" y2="1016" stroke="#000" stroke-width="1.6" />
<line x1="480.1" y1="1000" x2="480.1" y2="1016" stroke="#000" stroke-width="1.6" />
<text transform="translate(35.4,813) rotate(-90) scale(1,1.05)" text-anchor="middle" font-size="22.5" >Impedance Magnitude (MΩ)</text>
<path d="M153.4,690.97 C159.45,702.88 177.6,742.05 189.7,762.44 C201.8,782.83 213.9,799.29 226,813.32 C238.1,827.35 250.2,837.04 262.3,846.63 C274.4,856.22 286.5,864 298.6,870.86 C310.7,877.72 322.8,882.77 334.9,887.82 C347,892.87 359.1,897.31 371.2,901.14 C383.3,904.98 395.4,907.81 407.5,910.84 C419.6,913.86 437.75,917.9 443.8,919.32" fill="none" stroke="#e8201e" stroke-width="1.45"/>
<circle cx="153.4" cy="690.97" r="4.7" fill="none" stroke="#e8201e" stroke-width="1"/>
<circle cx="189.7" cy="762.44" r="4.7" fill="none" stroke="#e8201e" stroke-width="1"/>
<circle cx="226" cy="813.32" r="4.7" fill="none" stroke="#e8201e" stroke-width="1"/>
<circle cx="262.3" cy="846.63" r="4.7" fill="none" stroke="#e8201e" stroke-width="1"/>
<circle cx="298.6" cy="870.86" r="4.7" fill="none" stroke="#e8201e" stroke-width="1"/>
<circle cx="334.9" cy="887.82" r="4.7" fill="none" stroke="#e8201e" stroke-width="1"/>
<circle cx="371.2" cy="901.14" r="4.7" fill="none" stroke="#e8201e" stroke-width="1"/>
<circle cx="407.5" cy="910.84" r="4.7" fill="none" stroke="#e8201e" stroke-width="1"/>
<circle cx="443.8" cy="919.32" r="4.7" fill="none" stroke="#e8201e" stroke-width="1"/>
<path d="M153.4,691.57 C159.45,703.48 177.6,742.65 189.7,763.04 C201.8,783.43 213.9,799.89 226,813.92 C238.1,827.95 250.2,837.64 262.3,847.23 C274.4,856.82 286.5,864.6 298.6,871.46 C310.7,878.32 322.8,883.37 334.9,888.42 C347,893.47 359.1,897.91 371.2,901.75 C383.3,905.58 395.4,908.41 407.5,911.44 C419.6,914.46 437.75,918.5 443.8,919.92" fill="none" stroke="#2ed82e" stroke-width="1.45"/>
<circle cx="153.4" cy="691.57" r="4.7" fill="none" stroke="#2ed82e" stroke-width="1"/>
<circle cx="189.7" cy="763.04" r="4.7" fill="none" stroke="#2ed82e" stroke-width="1"/>
<circle cx="226" cy="813.92" r="4.7" fill="none" stroke="#2ed82e" stroke-width="1"/>
<circle cx="262.3" cy="847.23" r="4.7" fill="none" stroke="#2ed82e" stroke-width="1"/>
<circle cx="298.6" cy="871.46" r="4.7" fill="none" stroke="#2ed82e" stroke-width="1"/>
<circle cx="334.9" cy="888.42" r="4.7" fill="none" stroke="#2ed82e" stroke-width="1"/>
<circle cx="371.2" cy="901.75" r="4.7" fill="none" stroke="#2ed82e" stroke-width="1"/>
<circle cx="407.5" cy="911.44" r="4.7" fill="none" stroke="#2ed82e" stroke-width="1"/>
<circle cx="443.8" cy="919.92" r="4.7" fill="none" stroke="#2ed82e" stroke-width="1"/>
<path d="M153.4,692.17 C159.45,704.08 177.6,743.25 189.7,763.64 C201.8,784.03 213.9,800.49 226,814.52 C238.1,828.55 250.2,838.24 262.3,847.83 C274.4,857.42 286.5,865.2 298.6,872.06 C310.7,878.92 322.8,883.97 334.9,889.02 C347,894.07 359.1,898.51 371.2,902.34 C383.3,906.18 395.4,909.01 407.5,912.04 C419.6,915.06 437.75,919.1 443.8,920.52" fill="none" stroke="#2448dc" stroke-width="1.45"/>
<circle cx="153.4" cy="692.17" r="4.7" fill="none" stroke="#2448dc" stroke-width="1"/>
<circle cx="189.7" cy="763.64" r="4.7" fill="none" stroke="#2448dc" stroke-width="1"/>
<circle cx="226" cy="814.52" r="4.7" fill="none" stroke="#2448dc" stroke-width="1"/>
<circle cx="262.3" cy="847.83" r="4.7" fill="none" stroke="#2448dc" stroke-width="1"/>
<circle cx="298.6" cy="872.06" r="4.7" fill="none" stroke="#2448dc" stroke-width="1"/>
<circle cx="334.9" cy="889.02" r="4.7" fill="none" stroke="#2448dc" stroke-width="1"/>
<circle cx="371.2" cy="902.34" r="4.7" fill="none" stroke="#2448dc" stroke-width="1"/>
<circle cx="407.5" cy="912.04" r="4.7" fill="none" stroke="#2448dc" stroke-width="1"/>
<circle cx="443.8" cy="920.52" r="4.7" fill="none" stroke="#2448dc" stroke-width="1"/>
<path d="M153.4,692.77 C159.45,704.68 177.6,743.85 189.7,764.24 C201.8,784.63 213.9,801.09 226,815.12 C238.1,829.15 250.2,838.84 262.3,848.43 C274.4,858.02 286.5,865.8 298.6,872.66 C310.7,879.52 322.8,884.57 334.9,889.62 C347,894.67 359.1,899.11 371.2,902.94 C383.3,906.78 395.4,909.61 407.5,912.64 C419.6,915.66 437.75,919.7 443.8,921.12" fill="none" stroke="#6a1fdc" stroke-width="1.45"/>
<circle cx="153.4" cy="692.77" r="4.7" fill="none" stroke="#6a1fdc" stroke-width="1"/>
<circle cx="189.7" cy="764.24" r="4.7" fill="none" stroke="#6a1fdc" stroke-width="1"/>
<circle cx="226" cy="815.12" r="4.7" fill="none" stroke="#6a1fdc" stroke-width="1"/>
<circle cx="262.3" cy="848.43" r="4.7" fill="none" stroke="#6a1fdc" stroke-width="1"/>
<circle cx="298.6" cy="872.66" r="4.7" fill="none" stroke="#6a1fdc" stroke-width="1"/>
<circle cx="334.9" cy="889.62" r="4.7" fill="none" stroke="#6a1fdc" stroke-width="1"/>
<circle cx="371.2" cy="902.94" r="4.7" fill="none" stroke="#6a1fdc" stroke-width="1"/>
<circle cx="407.5" cy="912.64" r="4.7" fill="none" stroke="#6a1fdc" stroke-width="1"/>
<circle cx="443.8" cy="921.12" r="4.7" fill="none" stroke="#6a1fdc" stroke-width="1"/>
<rect x="296.2" y="626.2" width="150.7" height="107.7" fill="#fff" stroke="#000" stroke-width="1.5"/>
<line x1="304" y1="643.1" x2="344.9" y2="643.1" stroke="#e8201e" stroke-width="1.3" />
<circle cx="324.5" cy="643.1" r="6.8" fill="none" stroke="#e8201e" stroke-width="1"/>
<text transform="translate(443.4,651.4) scale(1,1.05)" text-anchor="end" font-size="22.5" >500 µm</text>
<line x1="304" y1="668.4" x2="344.9" y2="668.4" stroke="#2ed82e" stroke-width="1.3" />
<circle cx="324.5" cy="668.4" r="6.8" fill="none" stroke="#2ed82e" stroke-width="1"/>
<text transform="translate(443.4,676.7) scale(1,1.05)" text-anchor="end" font-size="22.5" >1000 µm</text>
<line x1="304" y1="693.5" x2="344.9" y2="693.5" stroke="#2448dc" stroke-width="1.3" />
<circle cx="324.5" cy="693.5" r="6.8" fill="none" stroke="#2448dc" stroke-width="1"/>
<text transform="translate(443.4,701.8) scale(1,1.05)" text-anchor="end" font-size="22.5" >1500 µm</text>
<line x1="304" y1="718.7" x2="344.9" y2="718.7" stroke="#6a1fdc" stroke-width="1.3" />
<circle cx="324.5" cy="718.7" r="6.8" fill="none" stroke="#6a1fdc" stroke-width="1"/>
<text transform="translate(443.4,727) scale(1,1.05)" text-anchor="end" font-size="22.5" >2000 µm</text>
<line x1="109.2" y1="1074.7" x2="109.2" y2="1262.1" stroke="#000" stroke-width="1.6" />
<line x1="93.4" y1="1074.7" x2="109.2" y2="1074.7" stroke="#000" stroke-width="1.6" />
<text transform="translate(87.8,1083.9) scale(1,1.05)" text-anchor="end" font-size="22.5" >0</text>
<line x1="93.4" y1="1165.5" x2="109.2" y2="1165.5" stroke="#000" stroke-width="1.6" />
<text transform="translate(87.8,1174.7) scale(1,1.05)" text-anchor="end" font-size="22.5" >-<tspan font-family="Liberation Serif">π</tspan>/4</text>
<line x1="93.4" y1="1256.3" x2="109.2" y2="1256.3" stroke="#000" stroke-width="1.6" />
<text transform="translate(87.8,1265.5) scale(1,1.05)" text-anchor="end" font-size="22.5" >-<tspan font-family="Liberation Serif">π</tspan>/2</text>
<line x1="109.2" y1="1262.1" x2="478.4" y2="1262.1" stroke="#000" stroke-width="1.6" />
<line x1="115" y1="1262.1" x2="115" y2="1277.9" stroke="#000" stroke-width="1.6" />
<text transform="translate(115,1307.6) scale(1,1.05)" text-anchor="middle" font-size="22.5" >0</text>
<line x1="187.68" y1="1262.1" x2="187.68" y2="1277.9" stroke="#000" stroke-width="1.6" />
<text transform="translate(187.68,1307.6) scale(1,1.05)" text-anchor="middle" font-size="22.5" >20</text>
<line x1="260.36" y1="1262.1" x2="260.36" y2="1277.9" stroke="#000" stroke-width="1.6" />
<text transform="translate(260.36,1307.6) scale(1,1.05)" text-anchor="middle" font-size="22.5" >40</text>
<line x1="333.04" y1="1262.1" x2="333.04" y2="1277.9" stroke="#000" stroke-width="1.6" />
<text transform="translate(333.04,1307.6) scale(1,1.05)" text-anchor="middle" font-size="22.5" >60</text>
<line x1="405.72" y1="1262.1" x2="405.72" y2="1277.9" stroke="#000" stroke-width="1.6" />
<text transform="translate(405.72,1307.6) scale(1,1.05)" text-anchor="middle" font-size="22.5" >80</text>
<line x1="478.4" y1="1262.1" x2="478.4" y2="1277.9" stroke="#000" stroke-width="1.6" />
<text transform="translate(478.4,1307.6) scale(1,1.05)" text-anchor="middle" font-size="22.5" >100</text>
<text transform="translate(297.2,1339) scale(1,1.05)" text-anchor="middle" font-size="22.5" >Frequency (Hz)</text>
<text transform="translate(34.2,1185) rotate(-90) scale(1,1.05)" text-anchor="middle" font-size="22.5" >Impedance phase (rad)</text>
<path d="M151.34,1131.5 C157.4,1137.28 175.57,1157.33 187.68,1166.2 C199.79,1175.07 211.91,1179.87 224.02,1184.7 C236.13,1189.53 248.25,1192.67 260.36,1195.2 C272.47,1197.73 284.59,1198.67 296.7,1199.9 C308.81,1201.13 320.93,1202.07 333.04,1202.6 C345.15,1203.13 357.27,1203.37 369.38,1203.1 C381.49,1202.83 393.61,1201.78 405.72,1201 C417.83,1200.22 436,1198.83 442.06,1198.4" fill="none" stroke="#e8201e" stroke-width="1.45"/>
<circle cx="151.34" cy="1131.5" r="3.1" fill="none" stroke="#e8201e" stroke-width="1"/>
<circle cx="187.68" cy="1166.2" r="3.1" fill="none" stroke="#e8201e" stroke-width="1"/>
<circle cx="224.02" cy="1184.7" r="3.1" fill="none" stroke="#e8201e" stroke-width="1"/>
<circle cx="260.36" cy="1195.2" r="3.1" fill="none" stroke="#e8201e" stroke-width="1"/>
<circle cx="296.7" cy="1199.9" r="3.1" fill="none" stroke="#e8201e" stroke-width="1"/>
<circle cx="333.04" cy="1202.6" r="3.1" fill="none" stroke="#e8201e" stroke-width="1"/>
<circle cx="369.38" cy="1203.1" r="3.1" fill="none" stroke="#e8201e" stroke-width="1"/>
<circle cx="405.72" cy="1201" r="3.1" fill="none" stroke="#e8201e" stroke-width="1"/>
<circle cx="442.06" cy="1198.4" r="3.1" fill="none" stroke="#e8201e" stroke-width="1"/>
<path d="M151.34,1131.9 C157.4,1137.68 175.57,1157.73 187.68,1166.6 C199.79,1175.47 211.91,1180.27 224.02,1185.1 C236.13,1189.93 248.25,1193.07 260.36,1195.6 C272.47,1198.13 284.59,1199.07 296.7,1200.3 C308.81,1201.53 320.93,1202.47 333.04,1203 C345.15,1203.53 357.27,1203.77 369.38,1203.5 C381.49,1203.23 393.61,1202.18 405.72,1201.4 C417.83,1200.62 436,1199.23 442.06,1198.8" fill="none" stroke="#2ed82e" stroke-width="1.45"/>
<circle cx="151.34" cy="1131.9" r="3.1" fill="none" stroke="#2ed82e" stroke-width="1"/>
<circle cx="187.68" cy="1166.6" r="3.1" fill="none" stroke="#2ed82e" stroke-width="1"/>
<circle cx="224.02" cy="1185.1" r="3.1" fill="none" stroke="#2ed82e" stroke-width="1"/>
<circle cx="260.36" cy="1195.6" r="3.1" fill="none" stroke="#2ed82e" stroke-width="1"/>
<circle cx="296.7" cy="1200.3" r="3.1" fill="none" stroke="#2ed82e" stroke-width="1"/>
<circle cx="333.04" cy="1203" r="3.1" fill="none" stroke="#2ed82e" stroke-width="1"/>
<circle cx="369.38" cy="1203.5" r="3.1" fill="none" stroke="#2ed82e" stroke-width="1"/>
<circle cx="405.72" cy="1201.4" r="3.1" fill="none" stroke="#2ed82e" stroke-width="1"/>
<circle cx="442.06" cy="1198.8" r="3.1" fill="none" stroke="#2ed82e" stroke-width="1"/>
<path d="M151.34,1132.3 C157.4,1138.08 175.57,1158.13 187.68,1167 C199.79,1175.87 211.91,1180.67 224.02,1185.5 C236.13,1190.33 248.25,1193.47 260.36,1196 C272.47,1198.53 284.59,1199.47 296.7,1200.7 C308.81,1201.93 320.93,1202.87 333.04,1203.4 C345.15,1203.93 357.27,1204.17 369.38,1203.9 C381.49,1203.63 393.61,1202.58 405.72,1201.8 C417.83,1201.02 436,1199.63 442.06,1199.2" fill="none" stroke="#2448dc" stroke-width="1.45"/>
<circle cx="151.34" cy="1132.3" r="3.1" fill="none" stroke="#2448dc" stroke-width="1"/>
<circle cx="187.68" cy="1167" r="3.1" fill="none" stroke="#2448dc" stroke-width="1"/>
<circle cx="224.02" cy="1185.5" r="3.1" fill="none" stroke="#2448dc" stroke-width="1"/>
<circle cx="260.36" cy="1196" r="3.1" fill="none" stroke="#2448dc" stroke-width="1"/>
<circle cx="296.7" cy="1200.7" r="3.1" fill="none" stroke="#2448dc" stroke-width="1"/>
<circle cx="333.04" cy="1203.4" r="3.1" fill="none" stroke="#2448dc" stroke-width="1"/>
<circle cx="369.38" cy="1203.9" r="3.1" fill="none" stroke="#2448dc" stroke-width="1"/>
<circle cx="405.72" cy="1201.8" r="3.1" fill="none" stroke="#2448dc" stroke-width="1"/>
<circle cx="442.06" cy="1199.2" r="3.1" fill="none" stroke="#2448dc" stroke-width="1"/>
<path d="M151.34,1132.7 C157.4,1138.48 175.57,1158.53 187.68,1167.4 C199.79,1176.27 211.91,1181.07 224.02,1185.9 C236.13,1190.73 248.25,1193.87 260.36,1196.4 C272.47,1198.93 284.59,1199.87 296.7,1201.1 C308.81,1202.33 320.93,1203.27 333.04,1203.8 C345.15,1204.33 357.27,1204.57 369.38,1204.3 C381.49,1204.03 393.61,1202.98 405.72,1202.2 C417.83,1201.42 436,1200.03 442.06,1199.6" fill="none" stroke="#6a1fdc" stroke-width="1.45"/>
<circle cx="151.34" cy="1132.7" r="3.1" fill="none" stroke="#6a1fdc" stroke-width="1"/>
<circle cx="187.68" cy="1167.4" r="3.1" fill="none" stroke="#6a1fdc" stroke-width="1"/>
<circle cx="224.02" cy="1185.9" r="3.1" fill="none" stroke="#6a1fdc" stroke-width="1"/>
<circle cx="260.36" cy="1196.4" r="3.1" fill="none" stroke="#6a1fdc" stroke-width="1"/>
<circle cx="296.7" cy="1201.1" r="3.1" fill="none" stroke="#6a1fdc" stroke-width="1"/>
<circle cx="333.04" cy="1203.8" r="3.1" fill="none" stroke="#6a1fdc" stroke-width="1"/>
<circle cx="369.38" cy="1204.3" r="3.1" fill="none" stroke="#6a1fdc" stroke-width="1"/>
<circle cx="405.72" cy="1202.2" r="3.1" fill="none" stroke="#6a1fdc" stroke-width="1"/>
<circle cx="442.06" cy="1199.6" r="3.1" fill="none" stroke="#6a1fdc" stroke-width="1"/>
<line x1="630.8" y1="636.5" x2="630.8" y2="1007.7" stroke="#000" stroke-width="1.6" />
<line x1="615.3" y1="1000.6" x2="630.8" y2="1000.6" stroke="#000" stroke-width="1.6" />
<text transform="translate(608,1009) scale(1,1.05)" text-anchor="end" font-size="22.5" >0</text>
<line x1="615.3" y1="939.92" x2="630.8" y2="939.92" stroke="#000" stroke-width="1.6" />
<text transform="translate(608,948.32) scale(1,1.05)" text-anchor="end" font-size="22.5" >100</text>
<line x1="615.3" y1="879.24" x2="630.8" y2="879.24" stroke="#000" stroke-width="1.6" />
<text transform="translate(608,887.64) scale(1,1.05)" text-anchor="end" font-size="22.5" >200</text>
<line x1="615.3" y1="818.56" x2="630.8" y2="818.56" stroke="#000" stroke-width="1.6" />
<text transform="translate(608,826.96) scale(1,1.05)" text-anchor="end" font-size="22.5" >300</text>
<line x1="615.3" y1="757.88" x2="630.8" y2="757.88" stroke="#000" stroke-width="1.6" />
<text transform="translate(608,766.28) scale(1,1.05)" text-anchor="end" font-size="22.5" >400</text>
<line x1="615.3" y1="697.2" x2="630.8" y2="697.2" stroke="#000" stroke-width="1.6" />
<text transform="translate(608,705.6) scale(1,1.05)" text-anchor="end" font-size="22.5" >500</text>
<line x1="615.3" y1="636.52" x2="630.8" y2="636.52" stroke="#000" stroke-width="1.6" />
<text transform="translate(608,644.92) scale(1,1.05)" text-anchor="end" font-size="22.5" >600</text>
<line x1="630.8" y1="1007.7" x2="1002" y2="1007.7" stroke="#000" stroke-width="1.6" />
<line x1="638.2" y1="1007.7" x2="638.2" y2="1023.9" stroke="#000" stroke-width="1.6" />
<line x1="710.96" y1="1007.7" x2="710.96" y2="1023.9" stroke="#000" stroke-width="1.6" />
<line x1="783.72" y1="1007.7" x2="783.72" y2="1023.9" stroke="#000" stroke-width="1.6" />
<line x1="856.48" y1="1007.7" x2="856.48" y2="1023.9" stroke="#000" stroke-width="1.6" />
<line x1="929.24" y1="1007.7" x2="929.24" y2="1023.9" stroke="#000" stroke-width="1.6" />
<line x1="1002" y1="1007.7" x2="1002" y2="1023.9" stroke="#000" stroke-width="1.6" />
<text transform="translate(552.2,813) rotate(-90) scale(1,1.05)" text-anchor="middle" font-size="22.5" >Impedance Magnitude (MΩ)</text>
<path d="M674.58,878.1 C680.64,883.27 698.83,900.27 710.96,909.1 C723.09,917.93 735.21,925.18 747.34,931.1 C759.47,937.02 771.59,940.67 783.72,944.6 C795.85,948.53 807.97,951.9 820.1,954.7 C832.23,957.5 844.35,959.43 856.48,961.4 C868.61,963.37 880.73,964.92 892.86,966.5 C904.99,968.08 917.11,969.72 929.24,970.9 C941.37,972.08 959.56,973.15 965.62,973.6" fill="none" stroke="#000" stroke-width="1.45"/>
<circle cx="674.58" cy="878.1" r="4.7" fill="none" stroke="#000" stroke-width="1"/>
<circle cx="710.96" cy="909.1" r="4.7" fill="none" stroke="#000" stroke-width="1"/>
<circle cx="747.34" cy="931.1" r="4.7" fill="none" stroke="#000" stroke-width="1"/>
<circle cx="783.72" cy="944.6" r="4.7" fill="none" stroke="#000" stroke-width="1"/>
<circle cx="820.1" cy="954.7" r="4.7" fill="none" stroke="#000" stroke-width="1"/>
<circle cx="856.48" cy="961.4" r="4.7" fill="none" stroke="#000" stroke-width="1"/>
<circle cx="892.86" cy="966.5" r="4.7" fill="none" stroke="#000" stroke-width="1"/>
<circle cx="929.24" cy="970.9" r="4.7" fill="none" stroke="#000" stroke-width="1"/>
<circle cx="965.62" cy="973.6" r="4.7" fill="none" stroke="#000" stroke-width="1"/>
<path d="M674.58,702.3 C680.64,714.17 698.83,753.37 710.96,773.5 C723.09,793.63 735.21,809.22 747.34,823.1 C759.47,836.98 771.59,847.25 783.72,856.8 C795.85,866.35 807.97,873.65 820.1,880.4 C832.23,887.15 844.35,892.23 856.48,897.3 C868.61,902.37 880.73,906.97 892.86,910.8 C904.99,914.63 917.11,917.32 929.24,920.3 C941.37,923.28 959.56,927.3 965.62,928.7" fill="none" stroke="#d40a0a" stroke-width="1.45"/>
<circle cx="674.58" cy="702.3" r="4.7" fill="none" stroke="#d40a0a" stroke-width="1"/>
<circle cx="710.96" cy="773.5" r="4.7" fill="none" stroke="#d40a0a" stroke-width="1"/>
<circle cx="747.34" cy="823.1" r="4.7" fill="none" stroke="#d40a0a" stroke-width="1"/>
<circle cx="783.72" cy="856.8" r="4.7" fill="none" stroke="#d40a0a" stroke-width="1"/>
<circle cx="820.1" cy="880.4" r="4.7" fill="none" stroke="#d40a0a" stroke-width="1"/>
<circle cx="856.48" cy="897.3" r="4.7" fill="none" stroke="#d40a0a" stroke-width="1"/>
<circle cx="892.86" cy="910.8" r="4.7" fill="none" stroke="#d40a0a" stroke-width="1"/>
<circle cx="929.24" cy="920.3" r="4.7" fill="none" stroke="#d40a0a" stroke-width="1"/>
<circle cx="965.62" cy="928.7" r="4.7" fill="none" stroke="#d40a0a" stroke-width="1"/>
<rect x="646.7" y="625.7" width="331.7" height="58" fill="#fff" stroke="#000" stroke-width="1.5"/>
<line x1="654.4" y1="642.5" x2="695.6" y2="642.5" stroke="#d40a0a" stroke-width="1.3" />
<circle cx="675.3" cy="642.5" r="6.8" fill="none" stroke="#d40a0a" stroke-width="1"/>
<text transform="translate(706.4,650.8) scale(1,1.05)" text-anchor="start" font-size="22.5" >Patterned (7 DIV model)</text>
<line x1="654.4" y1="668.5" x2="695.6" y2="668.5" stroke="#000" stroke-width="1.3" />
<circle cx="675.3" cy="668.5" r="6.8" fill="none" stroke="#000" stroke-width="1"/>
<text transform="translate(706.4,676.8) scale(1,1.05)" text-anchor="start" font-size="22.5" >Unpatterned (7 DIV model)</text>
<line x1="630.4" y1="1091.6" x2="630.4" y2="1279" stroke="#000" stroke-width="1.6" />
<line x1="614.5" y1="1091.6" x2="630.4" y2="1091.6" stroke="#000" stroke-width="1.6" />
<text transform="translate(608.9,1100.8) scale(1,1.05)" text-anchor="end" font-size="22.5" >0</text>
<line x1="614.5" y1="1182.4" x2="630.4" y2="1182.4" stroke="#000" stroke-width="1.6" />
<text transform="translate(608.9,1191.6) scale(1,1.05)" text-anchor="end" font-size="22.5" >-<tspan font-family="Liberation Serif">π</tspan>/4</text>
<line x1="614.5" y1="1273" x2="630.4" y2="1273" stroke="#000" stroke-width="1.6" />
<text transform="translate(608.9,1282.2) scale(1,1.05)" text-anchor="end" font-size="22.5" >-<tspan font-family="Liberation Serif">π</tspan>/2</text>
<line x1="630.4" y1="1279" x2="999.9" y2="1279" stroke="#000" stroke-width="1.6" />
<line x1="635.9" y1="1279" x2="635.9" y2="1294.9" stroke="#000" stroke-width="1.6" />
<text transform="translate(635.9,1324.8) scale(1,1.05)" text-anchor="middle" font-size="22.5" >0</text>
<line x1="708.7" y1="1279" x2="708.7" y2="1294.9" stroke="#000" stroke-width="1.6" />
<text transform="translate(708.7,1324.8) scale(1,1.05)" text-anchor="middle" font-size="22.5" >20</text>
<line x1="781.5" y1="1279" x2="781.5" y2="1294.9" stroke="#000" stroke-width="1.6" />
<text transform="translate(781.5,1324.8) scale(1,1.05)" text-anchor="middle" font-size="22.5" >40</text>
<line x1="854.3" y1="1279" x2="854.3" y2="1294.9" stroke="#000" stroke-width="1.6" />
<text transform="translate(854.3,1324.8) scale(1,1.05)" text-anchor="middle" font-size="22.5" >60</text>
<line x1="927.1" y1="1279" x2="927.1" y2="1294.9" stroke="#000" stroke-width="1.6" />
<text transform="translate(927.1,1324.8) scale(1,1.05)" text-anchor="middle" font-size="22.5" >80</text>
<line x1="999.9" y1="1279" x2="999.9" y2="1294.9" stroke="#000" stroke-width="1.6" />
<text transform="translate(999.9,1324.8) scale(1,1.05)" text-anchor="middle" font-size="22.5" >100</text>
<text transform="translate(817.9,1354.6) scale(1,1.05)" text-anchor="middle" font-size="22.5" >Frequency (Hz)</text>
<text transform="translate(552.4,1183.3) rotate(-90) scale(1,1.05)" text-anchor="middle" font-size="22.5" >Impedance phase (rad)</text>
<path d="M672.3,1153.2 C678.37,1159.12 696.57,1179.68 708.7,1188.7 C720.83,1197.72 732.97,1202.6 745.1,1207.3 C757.23,1212 769.37,1214.62 781.5,1216.9 C793.63,1219.18 805.77,1219.85 817.9,1221 C830.03,1222.15 842.17,1223.57 854.3,1223.8 C866.43,1224.03 878.57,1223.08 890.7,1222.4 C902.83,1221.72 914.97,1220.75 927.1,1219.7 C939.23,1218.65 957.43,1216.7 963.5,1216.1" fill="none" stroke="#000" stroke-width="1.45"/>
<circle cx="672.3" cy="1153.2" r="3.1" fill="none" stroke="#000" stroke-width="1"/>
<circle cx="708.7" cy="1188.7" r="3.1" fill="none" stroke="#000" stroke-width="1"/>
<circle cx="745.1" cy="1207.3" r="3.1" fill="none" stroke="#000" stroke-width="1"/>
<circle cx="781.5" cy="1216.9" r="3.1" fill="none" stroke="#000" stroke-width="1"/>
<circle cx="817.9" cy="1221" r="3.1" fill="none" stroke="#000" stroke-width="1"/>
<circle cx="854.3" cy="1223.8" r="3.1" fill="none" stroke="#000" stroke-width="1"/>
<circle cx="890.7" cy="1222.4" r="3.1" fill="none" stroke="#000" stroke-width="1"/>
<circle cx="927.1" cy="1219.7" r="3.1" fill="none" stroke="#000" stroke-width="1"/>
<circle cx="963.5" cy="1216.1" r="3.1" fill="none" stroke="#000" stroke-width="1"/>
<path d="M672.3,1149.6 C678.37,1155.43 696.57,1175.8 708.7,1184.6 C720.83,1193.4 732.97,1197.6 745.1,1202.4 C757.23,1207.2 769.37,1210.75 781.5,1213.4 C793.63,1216.05 805.77,1216.93 817.9,1218.3 C830.03,1219.67 842.17,1221.05 854.3,1221.6 C866.43,1222.15 878.57,1222.07 890.7,1221.6 C902.83,1221.13 914.97,1219.72 927.1,1218.8 C939.23,1217.88 957.43,1216.55 963.5,1216.1" fill="none" stroke="#d40a0a" stroke-width="1.45"/>
<circle cx="672.3" cy="1149.6" r="3.1" fill="none" stroke="#d40a0a" stroke-width="1"/>
<circle cx="708.7" cy="1184.6" r="3.1" fill="none" stroke="#d40a0a" stroke-width="1"/>
<circle cx="745.1" cy="1202.4" r="3.1" fill="none" stroke="#d40a0a" stroke-width="1"/>
<circle cx="781.5" cy="1213.4" r="3.1" fill="none" stroke="#d40a0a" stroke-width="1"/>
<circle cx="817.9" cy="1218.3" r="3.1" fill="none" stroke="#d40a0a" stroke-width="1"/>
<circle cx="854.3" cy="1221.6" r="3.1" fill="none" stroke="#d40a0a" stroke-width="1"/>
<circle cx="890.7" cy="1221.6" r="3.1" fill="none" stroke="#d40a0a" stroke-width="1"/>
<circle cx="927.1" cy="1218.8" r="3.1" fill="none" stroke="#d40a0a" stroke-width="1"/>
<circle cx="963.5" cy="1216.1" r="3.1" fill="none" stroke="#d40a0a" stroke-width="1"/>
<line x1="1148.1" y1="640.2" x2="1148.1" y2="1011" stroke="#000" stroke-width="1.6" />
<line x1="1131.9" y1="1004.3" x2="1148.1" y2="1004.3" stroke="#000" stroke-width="1.6" />
<text transform="translate(1124.6,1012.7) scale(1,1.05)" text-anchor="end" font-size="22.5" >0</text>
<line x1="1131.9" y1="913.27" x2="1148.1" y2="913.27" stroke="#000" stroke-width="1.6" />
<text transform="translate(1124.6,921.67) scale(1,1.05)" text-anchor="end" font-size="22.5" >100</text>
<line x1="1131.9" y1="822.24" x2="1148.1" y2="822.24" stroke="#000" stroke-width="1.6" />
<text transform="translate(1124.6,830.64) scale(1,1.05)" text-anchor="end" font-size="22.5" >200</text>
<line x1="1131.9" y1="731.21" x2="1148.1" y2="731.21" stroke="#000" stroke-width="1.6" />
<text transform="translate(1124.6,739.61) scale(1,1.05)" text-anchor="end" font-size="22.5" >300</text>
<line x1="1131.9" y1="640.18" x2="1148.1" y2="640.18" stroke="#000" stroke-width="1.6" />
<text transform="translate(1124.6,648.58) scale(1,1.05)" text-anchor="end" font-size="22.5" >400</text>
<line x1="1148.1" y1="1011" x2="1518.6" y2="1011" stroke="#000" stroke-width="1.6" />
<line x1="1154.9" y1="1011" x2="1154.9" y2="1027.2" stroke="#000" stroke-width="1.6" />
<line x1="1227.6" y1="1011" x2="1227.6" y2="1027.2" stroke="#000" stroke-width="1.6" />
<line x1="1300.3" y1="1011" x2="1300.3" y2="1027.2" stroke="#000" stroke-width="1.6" />
<line x1="1373" y1="1011" x2="1373" y2="1027.2" stroke="#000" stroke-width="1.6" />
<line x1="1445.7" y1="1011" x2="1445.7" y2="1027.2" stroke="#000" stroke-width="1.6" />
<line x1="1518.4" y1="1011" x2="1518.4" y2="1027.2" stroke="#000" stroke-width="1.6" />
<text transform="translate(1072.2,813) rotate(-90) scale(1,1.05)" text-anchor="middle" font-size="22.5" >Impedance Magnitude (MΩ)</text>
<path d="M1191.25,957.4 C1197.31,959.48 1215.48,966.42 1227.6,969.9 C1239.72,973.38 1251.83,976.05 1263.95,978.3 C1276.07,980.55 1288.18,981.88 1300.3,983.4 C1312.42,984.92 1324.53,986.28 1336.65,987.4 C1348.77,988.52 1360.88,989.37 1373,990.1 C1385.12,990.83 1397.23,991.35 1409.35,991.8 C1421.47,992.25 1433.58,992.4 1445.7,992.8 C1457.82,993.2 1475.99,993.97 1482.05,994.2" fill="none" stroke="#000" stroke-width="1.45"/>
<circle cx="1191.25" cy="957.4" r="4.7" fill="none" stroke="#000" stroke-width="1"/>
<circle cx="1227.6" cy="969.9" r="4.7" fill="none" stroke="#000" stroke-width="1"/>
<circle cx="1263.95" cy="978.3" r="4.7" fill="none" stroke="#000" stroke-width="1"/>
<circle cx="1300.3" cy="983.4" r="4.7" fill="none" stroke="#000" stroke-width="1"/>
<circle cx="1336.65" cy="987.4" r="4.7" fill="none" stroke="#000" stroke-width="1"/>
<circle cx="1373" cy="990.1" r="4.7" fill="none" stroke="#000" stroke-width="1"/>
<circle cx="1409.35" cy="991.8" r="4.7" fill="none" stroke="#000" stroke-width="1"/>
<circle cx="1445.7" cy="992.8" r="4.7" fill="none" stroke="#000" stroke-width="1"/>
<circle cx="1482.05" cy="994.2" r="4.7" fill="none" stroke="#000" stroke-width="1"/>
<path d="M1191.25,774.5 C1197.31,784 1215.48,815.25 1227.6,831.5 C1239.72,847.75 1251.83,860.75 1263.95,872 C1276.07,883.25 1288.18,891.52 1300.3,899 C1312.42,906.48 1324.53,911.73 1336.65,916.9 C1348.77,922.07 1360.88,926.18 1373,930 C1385.12,933.82 1397.23,936.98 1409.35,939.8 C1421.47,942.62 1433.58,944.7 1445.7,946.9 C1457.82,949.1 1475.99,951.98 1482.05,953" fill="none" stroke="#d40a0a" stroke-width="1.45"/>
<circle cx="1191.25" cy="774.5" r="4.7" fill="none" stroke="#d40a0a" stroke-width="1"/>
<circle cx="1227.6" cy="831.5" r="4.7" fill="none" stroke="#d40a0a" stroke-width="1"/>
<circle cx="1263.95" cy="872" r="4.7" fill="none" stroke="#d40a0a" stroke-width="1"/>
<circle cx="1300.3" cy="899" r="4.7" fill="none" stroke="#d40a0a" stroke-width="1"/>
<circle cx="1336.65" cy="916.9" r="4.7" fill="none" stroke="#d40a0a" stroke-width="1"/>
<circle cx="1373" cy="930" r="4.7" fill="none" stroke="#d40a0a" stroke-width="1"/>
<circle cx="1409.35" cy="939.8" r="4.7" fill="none" stroke="#d40a0a" stroke-width="1"/>
<circle cx="1445.7" cy="946.9" r="4.7" fill="none" stroke="#d40a0a" stroke-width="1"/>
<circle cx="1482.05" cy="953" r="4.7" fill="none" stroke="#d40a0a" stroke-width="1"/>
<rect x="1157.2" y="629.7" width="344.2" height="57.7" fill="#fff" stroke="#000" stroke-width="1.5"/>
<line x1="1165" y1="647" x2="1206.1" y2="647" stroke="#d40a0a" stroke-width="1.3" />
<circle cx="1185.9" cy="647" r="6.8" fill="none" stroke="#d40a0a" stroke-width="1"/>
<text transform="translate(1216.5,654) scale(1,1.05)" text-anchor="start" font-size="22.5" >Patterned (16 DIV model)</text>
<line x1="1165" y1="671.6" x2="1206.1" y2="671.6" stroke="#000" stroke-width="1.3" />
<circle cx="1185.9" cy="671.6" r="6.8" fill="none" stroke="#000" stroke-width="1"/>
<text transform="translate(1216.5,679.9) scale(1,1.05)" text-anchor="start" font-size="22.5" >Unpatterned (16 DIV model)</text>
<line x1="1149" y1="1092.9" x2="1149" y2="1280.4" stroke="#000" stroke-width="1.6" />
<line x1="1134" y1="1092.9" x2="1149" y2="1092.9" stroke="#000" stroke-width="1.6" />
<text transform="translate(1128.4,1102.1) scale(1,1.05)" text-anchor="end" font-size="22.5" >0</text>
<line x1="1134" y1="1183.8" x2="1149" y2="1183.8" stroke="#000" stroke-width="1.6" />
<text transform="translate(1128.4,1193) scale(1,1.05)" text-anchor="end" font-size="22.5" >-<tspan font-family="Liberation Serif">π</tspan>/4</text>
<line x1="1134" y1="1274.4" x2="1149" y2="1274.4" stroke="#000" stroke-width="1.6" />
<text transform="translate(1128.4,1283.6) scale(1,1.05)" text-anchor="end" font-size="22.5" >-<tspan font-family="Liberation Serif">π</tspan>/2</text>
<line x1="1149" y1="1280.4" x2="1518.5" y2="1280.4" stroke="#000" stroke-width="1.6" />
<line x1="1155.1" y1="1280.4" x2="1155.1" y2="1296" stroke="#000" stroke-width="1.6" />
<text transform="translate(1155.1,1326.2) scale(1,1.05)" text-anchor="middle" font-size="22.5" >0</text>
<line x1="1227.78" y1="1280.4" x2="1227.78" y2="1296" stroke="#000" stroke-width="1.6" />
<text transform="translate(1227.78,1326.2) scale(1,1.05)" text-anchor="middle" font-size="22.5" >20</text>
<line x1="1300.46" y1="1280.4" x2="1300.46" y2="1296" stroke="#000" stroke-width="1.6" />
<text transform="translate(1300.46,1326.2) scale(1,1.05)" text-anchor="middle" font-size="22.5" >40</text>
<line x1="1373.14" y1="1280.4" x2="1373.14" y2="1296" stroke="#000" stroke-width="1.6" />
<text transform="translate(1373.14,1326.2) scale(1,1.05)" text-anchor="middle" font-size="22.5" >60</text>
<line x1="1445.82" y1="1280.4" x2="1445.82" y2="1296" stroke="#000" stroke-width="1.6" />
<text transform="translate(1445.82,1326.2) scale(1,1.05)" text-anchor="middle" font-size="22.5" >80</text>
<line x1="1518.5" y1="1280.4" x2="1518.5" y2="1296" stroke="#000" stroke-width="1.6" />
<text transform="translate(1518.5,1326.2) scale(1,1.05)" text-anchor="middle" font-size="22.5" >100</text>
<text transform="translate(1336.8,1356.7) scale(1,1.05)" text-anchor="middle" font-size="22.5" >Frequency (Hz)</text>
<text transform="translate(1072.4,1183.3) rotate(-90) scale(1,1.05)" text-anchor="middle" font-size="22.5" >Impedance phase (rad)</text>
<path d="M1191.44,1155.3 C1197.5,1161.42 1215.67,1182.55 1227.78,1192 C1239.89,1201.45 1252.01,1206.85 1264.12,1212 C1276.23,1217.15 1288.35,1220.12 1300.46,1222.9 C1312.57,1225.68 1324.69,1227.18 1336.8,1228.7 C1348.91,1230.22 1361.03,1231.45 1373.14,1232 C1385.25,1232.55 1397.37,1232.18 1409.48,1232 C1421.59,1231.82 1433.71,1231.5 1445.82,1230.9 C1457.93,1230.3 1476.1,1228.82 1482.16,1228.4" fill="none" stroke="#d40a0a" stroke-width="1.45"/>
<circle cx="1191.44" cy="1155.3" r="3.1" fill="none" stroke="#d40a0a" stroke-width="1"/>
<circle cx="1227.78" cy="1192" r="3.1" fill="none" stroke="#d40a0a" stroke-width="1"/>
<circle cx="1264.12" cy="1212" r="3.1" fill="none" stroke="#d40a0a" stroke-width="1"/>
<circle cx="1300.46" cy="1222.9" r="3.1" fill="none" stroke="#d40a0a" stroke-width="1"/>
<circle cx="1336.8" cy="1228.7" r="3.1" fill="none" stroke="#d40a0a" stroke-width="1"/>
<circle cx="1373.14" cy="1232" r="3.1" fill="none" stroke="#d40a0a" stroke-width="1"/>
<circle cx="1409.48" cy="1232" r="3.1" fill="none" stroke="#d40a0a" stroke-width="1"/>
<circle cx="1445.82" cy="1230.9" r="3.1" fill="none" stroke="#d40a0a" stroke-width="1"/>
<circle cx="1482.16" cy="1228.4" r="3.1" fill="none" stroke="#d40a0a" stroke-width="1"/>
<path d="M1191.44,1155.3 C1197.5,1161.33 1215.67,1182.42 1227.78,1191.5 C1239.89,1200.58 1252.01,1205.38 1264.12,1209.8 C1276.23,1214.22 1288.35,1216.03 1300.46,1218 C1312.57,1219.97 1324.69,1220.78 1336.8,1221.6 C1348.91,1222.42 1361.03,1223.08 1373.14,1222.9 C1385.25,1222.72 1397.37,1221.5 1409.48,1220.5 C1421.59,1219.5 1433.71,1218.27 1445.82,1216.9 C1457.93,1215.53 1476.1,1213.07 1482.16,1212.3" fill="none" stroke="#000" stroke-width="1.45"/>
<circle cx="1191.44" cy="1155.3" r="3.1" fill="none" stroke="#000" stroke-width="1"/>
<circle cx="1227.78" cy="1191.5" r="3.1" fill="none" stroke="#000" stroke-width="1"/>
<circle cx="1264.12" cy="1209.8" r="3.1" fill="none" stroke="#000" stroke-width="1"/>
<circle cx="1300.46" cy="1218" r="3.1" fill="none" stroke="#000" stroke-width="1"/>
<circle cx="1336.8" cy="1221.6" r="3.1" fill="none" stroke="#000" stroke-width="1"/>
<circle cx="1373.14" cy="1222.9" r="3.1" fill="none" stroke="#000" stroke-width="1"/>
<circle cx="1409.48" cy="1220.5" r="3.1" fill="none" stroke="#000" stroke-width="1"/>
<circle cx="1445.82" cy="1216.9" r="3.1" fill="none" stroke="#000" stroke-width="1"/>
<circle cx="1482.16" cy="1212.3" r="3.1" fill="none" stroke="#000" stroke-width="1"/>
<line x1="1656.6" y1="646.5" x2="1656.6" y2="1107.5" stroke="#000" stroke-width="1.6" />
<line x1="1640.2" y1="646.5" x2="1656.6" y2="646.5" stroke="#000" stroke-width="1.6" />
<text transform="translate(1632.9,654.9) scale(1,1.05)" text-anchor="end" font-size="22.5" >8</text>
<line x1="1640.2" y1="760.3" x2="1656.6" y2="760.3" stroke="#000" stroke-width="1.6" />
<text transform="translate(1632.9,768.7) scale(1,1.05)" text-anchor="end" font-size="22.5" >6</text>
<line x1="1640.2" y1="874" x2="1656.6" y2="874" stroke="#000" stroke-width="1.6" />
<text transform="translate(1632.9,882.4) scale(1,1.05)" text-anchor="end" font-size="22.5" >4</text>
<line x1="1640.2" y1="987.2" x2="1656.6" y2="987.2" stroke="#000" stroke-width="1.6" />
<text transform="translate(1632.9,995.6) scale(1,1.05)" text-anchor="end" font-size="22.5" >2</text>
<line x1="1640.2" y1="1100.3" x2="1656.6" y2="1100.3" stroke="#000" stroke-width="1.6" />
<text transform="translate(1632.9,1108.7) scale(1,1.05)" text-anchor="end" font-size="22.5" >0</text>
<line x1="1648.5" y1="703.4" x2="1656.6" y2="703.4" stroke="#000" stroke-width="1.6" />
<line x1="1648.5" y1="816.9" x2="1656.6" y2="816.9" stroke="#000" stroke-width="1.6" />
<line x1="1648.5" y1="930.5" x2="1656.6" y2="930.5" stroke="#000" stroke-width="1.6" />
<line x1="1648.5" y1="1043.5" x2="1656.6" y2="1043.5" stroke="#000" stroke-width="1.6" />
<line x1="1656.6" y1="1107.5" x2="1890.2" y2="1107.5" stroke="#000" stroke-width="1.6" />
<line x1="1696.3" y1="1107.5" x2="1696.3" y2="1123.8" stroke="#000" stroke-width="1.6" />
<text transform="translate(1696.3,1149.1) scale(1,1.05)" text-anchor="middle" font-size="22.5" >7 DIV</text>
<line x1="1858" y1="1107.5" x2="1858" y2="1123.8" stroke="#000" stroke-width="1.6" />
<text transform="translate(1858,1149.1) scale(1,1.05)" text-anchor="middle" font-size="22.5" >16 DIV</text>
<text transform="translate(1594.9,871) rotate(-90) scale(1,1.05)" text-anchor="middle" font-size="22.5" >Ratio of impedance (Patterned/Unpatterned)</text>
<line x1="1696.1" y1="962.1" x2="1857.9" y2="820.5" stroke="#0000c8" stroke-width="1.4" />
<line x1="1696" y1="1047.7" x2="1857.9" y2="1018.5" stroke="#404040" stroke-width="1.4" />
<path d="M1696.1,954.7 L1703.5,962.1 L1696.1,969.5 L1688.7,962.1 Z" fill="#0000c8"/>
<path d="M1857.9,813.3 L1865.1,820.5 L1857.9,827.7 L1850.7,820.5 Z" fill="#0000c8"/>
<circle cx="1696" cy="1047.7" r="5.3" fill="#404040"/>
<circle cx="1857.9" cy="1018.5" r="5.3" fill="#404040"/>
<rect x="1709.8" y="648.6" width="175.6" height="58.2" fill="#fff" stroke="#000" stroke-width="1.5"/>
<line x1="1718.1" y1="666.2" x2="1759.1" y2="666.2" stroke="#0000c8" stroke-width="1.3" />
<path d="M1738.4,656.6 L1748.2,666.4 L1738.4,676.2 L1728.6,666.4 Z" fill="#0000c8"/>
<line x1="1718.1" y1="691.3" x2="1759.1" y2="691.3" stroke="#404040" stroke-width="1.3" />
<circle cx="1738.4" cy="691.6" r="7" fill="#404040"/>
<text transform="translate(1769.6,673.5) scale(1,1.05)" text-anchor="start" font-size="22.5" >Simulation</text>
<text transform="translate(1769.6,698.6) scale(1,1.05)" text-anchor="start" font-size="22.5" >Experiment</text>
</svg>
</body></html>
